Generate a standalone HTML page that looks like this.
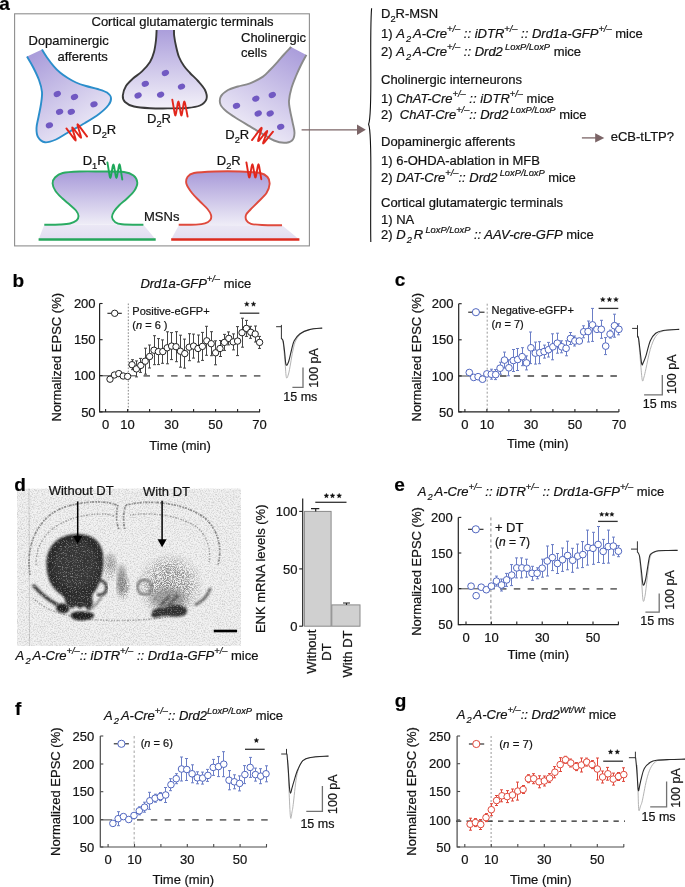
<!DOCTYPE html><html><head><meta charset="utf-8"><style>html,body{margin:0;padding:0;background:#fff;}svg{display:block;opacity:0.999;}text{font-family:"Liberation Sans", sans-serif;white-space:pre;stroke:#1a1a1a;stroke-width:0.22px;}</style></head><body>
<svg width="685" height="887" viewBox="0 0 685 887">
<defs>
<linearGradient id="gT" x1="0" y1="0" x2="0" y2="1"><stop offset="0" stop-color="#ab9edb"/><stop offset="1" stop-color="#f3f1f9"/></linearGradient>
<linearGradient id="gL" x1="0.2" y1="0" x2="0.8" y2="1"><stop offset="0" stop-color="#ab9edb"/><stop offset="1" stop-color="#f5f3fa"/></linearGradient>
<linearGradient id="gR" x1="0.8" y1="0" x2="0.3" y2="1"><stop offset="0" stop-color="#ab9edb"/><stop offset="1" stop-color="#f5f3fa"/></linearGradient>
<linearGradient id="gM" x1="0" y1="0" x2="0" y2="1"><stop offset="0" stop-color="#a89ad9"/><stop offset="1" stop-color="#efedf7"/></linearGradient>
<linearGradient id="gB" x1="0" y1="0" x2="0" y2="1"><stop offset="0" stop-color="#ebe8f5"/><stop offset="1" stop-color="#e2ddf1"/></linearGradient>
<filter id="noise" x="0" y="0" width="1" height="1"><feTurbulence type="fractalNoise" baseFrequency="0.9" numOctaves="1" seed="3"/><feColorMatrix type="matrix" values="0 0 0 0 0  0 0 0 0 0  0 0 0 0 0  0 0 0 -2.2 1.45"/><feComposite in2="SourceGraphic" operator="in"/></filter>
</defs>
<text x="-0.80" y="10.00" font-size="19" text-anchor="start" font-weight="bold" font-style="normal" fill="#000" >a</text>
<rect x="14.6" y="13.8" width="294.8" height="232.1" fill="none" stroke="#8e8e8e" stroke-width="1.1"/>
<text x="91.50" y="25.50" font-size="13" text-anchor="start" font-weight="normal" font-style="normal" fill="#111" >Cortical glutamatergic terminals</text>
<text x="28.50" y="44.60" font-size="13" text-anchor="start" font-weight="normal" font-style="normal" fill="#111" >Dopaminergic</text>
<text x="57.50" y="60.50" font-size="13" text-anchor="start" font-weight="normal" font-style="normal" fill="#111" >afferents</text>
<text x="241.00" y="42.00" font-size="13" text-anchor="start" font-weight="normal" font-style="normal" fill="#111" >Cholinergic</text>
<text x="241.00" y="57.30" font-size="13" text-anchor="start" font-weight="normal" font-style="normal" fill="#111" >cells</text>
<path d="M27.00 56.60 C28.00 58.33 31.00 63.10 33.00 67.00 C35.00 70.90 37.50 75.83 39.00 80.00 C40.50 84.17 41.67 88.00 42.00 92.00 C42.33 96.00 41.58 99.83 41.00 104.00 C40.42 108.17 39.25 113.00 38.50 117.00 C37.75 121.00 36.58 124.67 36.50 128.00 C36.42 131.33 36.58 134.62 38.00 137.00 C39.42 139.38 42.00 141.88 45.00 142.30 C48.00 142.72 52.17 141.13 56.00 139.50 C59.83 137.87 63.17 135.25 68.00 132.50 C72.83 129.75 79.83 126.08 85.00 123.00 C90.17 119.92 95.08 117.00 99.00 114.00 C102.92 111.00 106.50 107.67 108.50 105.00 C110.50 102.33 111.25 100.08 111.00 98.00 C110.75 95.92 109.23 94.00 107.00 92.50 C104.77 91.00 101.10 90.08 97.60 89.00 C94.10 87.92 89.60 87.08 86.00 86.00 C82.40 84.92 79.03 83.83 76.00 82.50 C72.97 81.17 70.47 79.67 67.80 78.00 C65.13 76.33 62.33 74.45 60.00 72.50 C57.67 70.55 55.97 68.80 53.80 66.30 C51.63 63.80 48.97 60.28 47.00 57.50 C45.03 54.72 42.83 50.92 42.00 49.60 Z" fill="url(#gL)"/>
<path d="M27.00 56.60 C28.00 58.33 31.00 63.10 33.00 67.00 C35.00 70.90 37.50 75.83 39.00 80.00 C40.50 84.17 41.67 88.00 42.00 92.00 C42.33 96.00 41.58 99.83 41.00 104.00 C40.42 108.17 39.25 113.00 38.50 117.00 C37.75 121.00 36.58 124.67 36.50 128.00 C36.42 131.33 36.58 134.62 38.00 137.00 C39.42 139.38 42.00 141.88 45.00 142.30 C48.00 142.72 52.17 141.13 56.00 139.50 C59.83 137.87 63.17 135.25 68.00 132.50 C72.83 129.75 79.83 126.08 85.00 123.00 C90.17 119.92 95.08 117.00 99.00 114.00 C102.92 111.00 106.50 107.67 108.50 105.00 C110.50 102.33 111.25 100.08 111.00 98.00 C110.75 95.92 109.23 94.00 107.00 92.50 C104.77 91.00 101.10 90.08 97.60 89.00 C94.10 87.92 89.60 87.08 86.00 86.00 C82.40 84.92 79.03 83.83 76.00 82.50 C72.97 81.17 70.47 79.67 67.80 78.00 C65.13 76.33 62.33 74.45 60.00 72.50 C57.67 70.55 55.97 68.80 53.80 66.30 C51.63 63.80 48.97 60.28 47.00 57.50 C45.03 54.72 42.83 50.92 42.00 49.60" fill="none" stroke="#2b8ecb" stroke-width="1.9"/>
<path d="M156.60 30.00 C156.50 31.67 156.43 36.33 156.00 40.00 C155.57 43.67 155.00 48.33 154.00 52.00 C153.00 55.67 152.00 58.77 150.00 62.00 C148.00 65.23 144.83 68.65 142.00 71.40 C139.17 74.15 135.67 76.07 133.00 78.50 C130.33 80.93 127.70 83.17 126.00 86.00 C124.30 88.83 122.97 92.83 122.80 95.50 C122.63 98.17 123.13 100.17 125.00 102.00 C126.87 103.83 129.83 105.47 134.00 106.50 C138.17 107.53 144.00 107.88 150.00 108.20 C156.00 108.52 163.83 108.43 170.00 108.40 C176.17 108.37 182.00 108.48 187.00 108.00 C192.00 107.52 196.75 107.00 200.00 105.50 C203.25 104.00 205.67 101.58 206.50 99.00 C207.33 96.42 206.42 93.00 205.00 90.00 C203.58 87.00 200.50 83.83 198.00 81.00 C195.50 78.17 192.33 75.50 190.00 73.00 C187.67 70.50 185.83 68.67 184.00 66.00 C182.17 63.33 180.33 60.33 179.00 57.00 C177.67 53.67 176.80 49.50 176.00 46.00 C175.20 42.50 174.53 38.67 174.20 36.00 C173.87 33.33 174.03 31.00 174.00 30.00 Z" fill="url(#gT)"/>
<path d="M156.60 30.00 C156.50 31.67 156.43 36.33 156.00 40.00 C155.57 43.67 155.00 48.33 154.00 52.00 C153.00 55.67 152.00 58.77 150.00 62.00 C148.00 65.23 144.83 68.65 142.00 71.40 C139.17 74.15 135.67 76.07 133.00 78.50 C130.33 80.93 127.70 83.17 126.00 86.00 C124.30 88.83 122.97 92.83 122.80 95.50 C122.63 98.17 123.13 100.17 125.00 102.00 C126.87 103.83 129.83 105.47 134.00 106.50 C138.17 107.53 144.00 107.88 150.00 108.20 C156.00 108.52 163.83 108.43 170.00 108.40 C176.17 108.37 182.00 108.48 187.00 108.00 C192.00 107.52 196.75 107.00 200.00 105.50 C203.25 104.00 205.67 101.58 206.50 99.00 C207.33 96.42 206.42 93.00 205.00 90.00 C203.58 87.00 200.50 83.83 198.00 81.00 C195.50 78.17 192.33 75.50 190.00 73.00 C187.67 70.50 185.83 68.67 184.00 66.00 C182.17 63.33 180.33 60.33 179.00 57.00 C177.67 53.67 176.80 49.50 176.00 46.00 C175.20 42.50 174.53 38.67 174.20 36.00 C173.87 33.33 174.03 31.00 174.00 30.00" fill="none" stroke="#3a3a3a" stroke-width="1.9"/>
<path d="M291.10 46.90 C289.92 48.17 286.28 51.97 284.00 54.50 C281.72 57.03 279.73 59.52 277.40 62.10 C275.07 64.68 272.40 67.58 270.00 70.00 C267.60 72.42 266.33 74.38 263.00 76.60 C259.67 78.82 254.17 81.65 250.00 83.30 C245.83 84.95 241.67 85.38 238.00 86.50 C234.33 87.62 230.87 88.33 228.00 90.00 C225.13 91.67 222.05 94.08 220.80 96.50 C219.55 98.92 219.63 102.08 220.50 104.50 C221.37 106.92 223.42 108.75 226.00 111.00 C228.58 113.25 232.00 115.43 236.00 118.00 C240.00 120.57 245.50 123.70 250.00 126.40 C254.50 129.10 259.00 131.85 263.00 134.20 C267.00 136.55 270.50 139.07 274.00 140.50 C277.50 141.93 281.00 142.80 284.00 142.80 C287.00 142.80 290.25 142.13 292.00 140.50 C293.75 138.87 294.42 136.08 294.50 133.00 C294.58 129.92 293.25 125.83 292.50 122.00 C291.75 118.17 290.58 113.55 290.00 110.00 C289.42 106.45 288.75 104.37 289.00 100.70 C289.25 97.03 290.33 92.12 291.50 88.00 C292.67 83.88 294.42 79.83 296.00 76.00 C297.58 72.17 299.27 68.52 301.00 65.00 C302.73 61.48 305.50 56.58 306.40 54.90 Z" fill="url(#gR)"/>
<path d="M291.10 46.90 C289.92 48.17 286.28 51.97 284.00 54.50 C281.72 57.03 279.73 59.52 277.40 62.10 C275.07 64.68 272.40 67.58 270.00 70.00 C267.60 72.42 266.33 74.38 263.00 76.60 C259.67 78.82 254.17 81.65 250.00 83.30 C245.83 84.95 241.67 85.38 238.00 86.50 C234.33 87.62 230.87 88.33 228.00 90.00 C225.13 91.67 222.05 94.08 220.80 96.50 C219.55 98.92 219.63 102.08 220.50 104.50 C221.37 106.92 223.42 108.75 226.00 111.00 C228.58 113.25 232.00 115.43 236.00 118.00 C240.00 120.57 245.50 123.70 250.00 126.40 C254.50 129.10 259.00 131.85 263.00 134.20 C267.00 136.55 270.50 139.07 274.00 140.50 C277.50 141.93 281.00 142.80 284.00 142.80 C287.00 142.80 290.25 142.13 292.00 140.50 C293.75 138.87 294.42 136.08 294.50 133.00 C294.58 129.92 293.25 125.83 292.50 122.00 C291.75 118.17 290.58 113.55 290.00 110.00 C289.42 106.45 288.75 104.37 289.00 100.70 C289.25 97.03 290.33 92.12 291.50 88.00 C292.67 83.88 294.42 79.83 296.00 76.00 C297.58 72.17 299.27 68.52 301.00 65.00 C302.73 61.48 305.50 56.58 306.40 54.90" fill="none" stroke="#8a8a8a" stroke-width="1.9"/>
<ellipse cx="57.3" cy="94.0" rx="3.75" ry="2.9" fill="#7159c2" transform="rotate(-22 57.3 94.0)"/>
<ellipse cx="74.5" cy="97.0" rx="3.75" ry="2.9" fill="#7159c2" transform="rotate(-22 74.5 97.0)"/>
<ellipse cx="94.0" cy="104.3" rx="3.75" ry="2.9" fill="#7159c2" transform="rotate(-22 94.0 104.3)"/>
<ellipse cx="59.6" cy="111.8" rx="3.75" ry="2.9" fill="#7159c2" transform="rotate(-22 59.6 111.8)"/>
<ellipse cx="71.3" cy="111.8" rx="3.75" ry="2.9" fill="#7159c2" transform="rotate(-22 71.3 111.8)"/>
<ellipse cx="49.4" cy="125.3" rx="3.75" ry="2.9" fill="#7159c2" transform="rotate(-22 49.4 125.3)"/>
<ellipse cx="165.4" cy="73.0" rx="3.75" ry="2.9" fill="#7159c2" transform="rotate(-22 165.4 73.0)"/>
<ellipse cx="145.3" cy="83.8" rx="3.75" ry="2.9" fill="#7159c2" transform="rotate(-22 145.3 83.8)"/>
<ellipse cx="181.5" cy="86.6" rx="3.75" ry="2.9" fill="#7159c2" transform="rotate(-22 181.5 86.6)"/>
<ellipse cx="138.1" cy="95.5" rx="3.75" ry="2.9" fill="#7159c2" transform="rotate(-22 138.1 95.5)"/>
<ellipse cx="160.6" cy="94.7" rx="3.75" ry="2.9" fill="#7159c2" transform="rotate(-22 160.6 94.7)"/>
<ellipse cx="236.5" cy="105.8" rx="3.75" ry="2.9" fill="#7159c2" transform="rotate(-22 236.5 105.8)"/>
<ellipse cx="255.8" cy="98.7" rx="3.75" ry="2.9" fill="#7159c2" transform="rotate(-22 255.8 98.7)"/>
<ellipse cx="272.3" cy="95.0" rx="3.75" ry="2.9" fill="#7159c2" transform="rotate(-22 272.3 95.0)"/>
<ellipse cx="258.2" cy="113.5" rx="3.75" ry="2.9" fill="#7159c2" transform="rotate(-22 258.2 113.5)"/>
<ellipse cx="270.2" cy="113.5" rx="3.75" ry="2.9" fill="#7159c2" transform="rotate(-22 270.2 113.5)"/>
<ellipse cx="280.7" cy="126.8" rx="3.75" ry="2.9" fill="#7159c2" transform="rotate(-22 280.7 126.8)"/>
<path d="M44.3 224.8 L143.4 224.8 L155.7 239.5 L38.6 239.5Z" fill="url(#gB)"/>
<path d="M44.30 224.80 C46.92 224.75 55.72 224.72 60.00 224.50 C64.28 224.28 67.25 224.17 70.00 223.50 C72.75 222.83 75.08 221.75 76.50 220.50 C77.92 219.25 78.58 217.67 78.50 216.00 C78.42 214.33 77.50 212.42 76.00 210.50 C74.50 208.58 71.75 206.50 69.50 204.50 C67.25 202.50 64.83 200.75 62.50 198.50 C60.17 196.25 57.15 193.50 55.50 191.00 C53.85 188.50 52.68 185.75 52.60 183.50 C52.52 181.25 53.32 179.25 55.00 177.50 C56.68 175.75 58.53 174.00 62.70 173.00 C66.87 172.00 73.78 171.75 80.00 171.50 C86.22 171.25 92.67 171.42 100.00 171.50 C107.33 171.58 118.42 171.33 124.00 172.00 C129.58 172.67 131.28 173.75 133.50 175.50 C135.72 177.25 137.13 180.00 137.30 182.50 C137.47 185.00 136.22 187.83 134.50 190.50 C132.78 193.17 129.50 196.08 127.00 198.50 C124.50 200.92 121.67 202.83 119.50 205.00 C117.33 207.17 115.25 209.50 114.00 211.50 C112.75 213.50 111.83 215.25 112.00 217.00 C112.17 218.75 113.33 220.78 115.00 222.00 C116.67 223.22 117.27 223.83 122.00 224.30 C126.73 224.77 139.83 224.72 143.40 224.80 Z" fill="url(#gM)"/>
<path d="M44.30 224.80 C46.92 224.75 55.72 224.72 60.00 224.50 C64.28 224.28 67.25 224.17 70.00 223.50 C72.75 222.83 75.08 221.75 76.50 220.50 C77.92 219.25 78.58 217.67 78.50 216.00 C78.42 214.33 77.50 212.42 76.00 210.50 C74.50 208.58 71.75 206.50 69.50 204.50 C67.25 202.50 64.83 200.75 62.50 198.50 C60.17 196.25 57.15 193.50 55.50 191.00 C53.85 188.50 52.68 185.75 52.60 183.50 C52.52 181.25 53.32 179.25 55.00 177.50 C56.68 175.75 58.53 174.00 62.70 173.00 C66.87 172.00 73.78 171.75 80.00 171.50 C86.22 171.25 92.67 171.42 100.00 171.50 C107.33 171.58 118.42 171.33 124.00 172.00 C129.58 172.67 131.28 173.75 133.50 175.50 C135.72 177.25 137.13 180.00 137.30 182.50 C137.47 185.00 136.22 187.83 134.50 190.50 C132.78 193.17 129.50 196.08 127.00 198.50 C124.50 200.92 121.67 202.83 119.50 205.00 C117.33 207.17 115.25 209.50 114.00 211.50 C112.75 213.50 111.83 215.25 112.00 217.00 C112.17 218.75 113.33 220.78 115.00 222.00 C116.67 223.22 117.27 223.83 122.00 224.30 C126.73 224.77 139.83 224.72 143.40 224.80" fill="none" stroke="#2aab62" stroke-width="1.9"/>
<line x1="38.6" y1="239.5" x2="155.7" y2="239.5" stroke="#26a65b" stroke-width="2.5"/>
<path d="M179 225 L282 225.3 L299 239.3 L171.2 239.3Z" fill="url(#gB)"/>
<path d="M178.70 224.80 C181.58 224.77 191.62 224.85 196.00 224.60 C200.38 224.35 202.62 224.07 205.00 223.30 C207.38 222.53 209.30 221.38 210.30 220.00 C211.30 218.62 211.47 216.83 211.00 215.00 C210.53 213.17 209.33 211.25 207.50 209.00 C205.67 206.75 202.58 204.17 200.00 201.50 C197.42 198.83 194.25 195.92 192.00 193.00 C189.75 190.08 187.25 186.67 186.50 184.00 C185.75 181.33 186.25 178.83 187.50 177.00 C188.75 175.17 189.42 173.92 194.00 173.00 C198.58 172.08 207.33 171.75 215.00 171.50 C222.67 171.25 232.50 171.25 240.00 171.50 C247.50 171.75 255.42 172.08 260.00 173.00 C264.58 173.92 265.90 175.17 267.50 177.00 C269.10 178.83 269.77 181.33 269.60 184.00 C269.43 186.67 268.43 190.00 266.50 193.00 C264.57 196.00 260.67 199.25 258.00 202.00 C255.33 204.75 252.50 207.33 250.50 209.50 C248.50 211.67 246.67 213.17 246.00 215.00 C245.33 216.83 245.67 219.03 246.50 220.50 C247.33 221.97 248.42 223.05 251.00 223.80 C253.58 224.55 256.83 224.75 262.00 225.00 C267.17 225.25 278.67 225.25 282.00 225.30 Z" fill="url(#gM)"/>
<path d="M178.70 224.80 C181.58 224.77 191.62 224.85 196.00 224.60 C200.38 224.35 202.62 224.07 205.00 223.30 C207.38 222.53 209.30 221.38 210.30 220.00 C211.30 218.62 211.47 216.83 211.00 215.00 C210.53 213.17 209.33 211.25 207.50 209.00 C205.67 206.75 202.58 204.17 200.00 201.50 C197.42 198.83 194.25 195.92 192.00 193.00 C189.75 190.08 187.25 186.67 186.50 184.00 C185.75 181.33 186.25 178.83 187.50 177.00 C188.75 175.17 189.42 173.92 194.00 173.00 C198.58 172.08 207.33 171.75 215.00 171.50 C222.67 171.25 232.50 171.25 240.00 171.50 C247.50 171.75 255.42 172.08 260.00 173.00 C264.58 173.92 265.90 175.17 267.50 177.00 C269.10 178.83 269.77 181.33 269.60 184.00 C269.43 186.67 268.43 190.00 266.50 193.00 C264.57 196.00 260.67 199.25 258.00 202.00 C255.33 204.75 252.50 207.33 250.50 209.50 C248.50 211.67 246.67 213.17 246.00 215.00 C245.33 216.83 245.67 219.03 246.50 220.50 C247.33 221.97 248.42 223.05 251.00 223.80 C253.58 224.55 256.83 224.75 262.00 225.00 C267.17 225.25 278.67 225.25 282.00 225.30" fill="none" stroke="#df4a3d" stroke-width="1.9"/>
<line x1="171.2" y1="239.4" x2="299.4" y2="239.4" stroke="#dc2b1f" stroke-width="2.5"/>
<path d="M172.30 99.60 L174.72 113.48 Q175.40 117.40 176.06 113.44 L177.74 103.36 Q178.40 99.40 179.06 103.40 L180.74 113.60 Q181.40 117.60 182.04 113.60 L183.66 103.40 Q184.30 99.40 185.03 103.18 L187.60 116.60" fill="none" stroke="#e2261c" stroke-width="1.9" stroke-linecap="round" stroke-linejoin="round"/>
<path d="M107.40 162.40 L109.66 176.13 Q110.30 180.00 110.98 176.13 L112.72 166.27 Q113.40 162.40 114.06 166.27 L115.74 176.13 Q116.40 180.00 117.08 176.13 L118.82 166.27 Q119.50 162.40 120.12 166.16 L122.30 179.50" fill="none" stroke="#1ea85a" stroke-width="1.9" stroke-linecap="round" stroke-linejoin="round"/>
<path d="M246.40 162.40 L248.66 175.74 Q249.30 179.50 249.98 175.74 L251.72 166.16 Q252.40 162.40 253.06 166.16 L254.74 175.74 Q255.40 179.50 256.08 175.74 L257.82 166.16 Q258.50 162.40 259.12 166.10 L261.30 179.20" fill="none" stroke="#e2261c" stroke-width="1.9" stroke-linecap="round" stroke-linejoin="round"/>
<path d="M66.40 128.40 L74.36 139.16 Q76.60 142.20 75.46 138.59 L72.54 129.41 Q71.40 125.80 73.71 128.81 L79.59 136.49 Q81.90 139.50 80.73 135.78 L77.77 126.32 Q76.60 122.60 78.91 125.68 L87.10 136.60" fill="none" stroke="#e2261c" stroke-width="1.9" stroke-linecap="round" stroke-linejoin="round"/>
<path d="M252.00 140.10 L260.19 129.18 Q262.50 126.10 261.36 129.77 L258.44 139.13 Q257.30 142.80 259.68 139.83 L265.72 132.27 Q268.10 129.30 266.80 132.78 L263.50 141.62 Q262.20 145.10 264.58 142.15 L273.00 131.70" fill="none" stroke="#e2261c" stroke-width="1.9" stroke-linecap="round" stroke-linejoin="round"/>
<text x="92.30" y="133.80" font-size="13" text-anchor="start" font-weight="normal" font-style="normal" fill="#111" >D<tspan dx="0" font-size="9.3" baseline-shift="-3.8">2</tspan>R</text>
<text x="147.00" y="122.80" font-size="13" text-anchor="start" font-weight="normal" font-style="normal" fill="#111" >D<tspan dx="0" font-size="9.3" baseline-shift="-3.8">2</tspan>R</text>
<text x="225.30" y="139.20" font-size="13" text-anchor="start" font-weight="normal" font-style="normal" fill="#111" >D<tspan dx="0" font-size="9.3" baseline-shift="-3.8">2</tspan>R</text>
<text x="82.70" y="164.50" font-size="13" text-anchor="start" font-weight="normal" font-style="normal" fill="#111" >D<tspan dx="0" font-size="9.3" baseline-shift="-3.8">1</tspan>R</text>
<text x="216.80" y="164.50" font-size="13" text-anchor="start" font-weight="normal" font-style="normal" fill="#111" >D<tspan dx="0" font-size="9.3" baseline-shift="-3.8">2</tspan>R</text>
<text x="144.00" y="220.70" font-size="13" text-anchor="start" font-weight="normal" font-style="normal" fill="#111" >MSNs</text>
<line x1="301.6" y1="129.8" x2="358" y2="129.8" stroke="#7b6466" stroke-width="1.3"/>
<path d="M357 124.5 L365.8 129.8 L357 135.1Z" fill="#7b6466"/>
<path d="M371.6 8.2 C370.6 20 370.6 40 370.8 70 C371 100 371 118 368.6 124.3 C371 130 371 150 370.8 180 C370.6 215 370.6 232 370.8 242" fill="none" stroke="#111" stroke-width="1.1"/>
<text x="381.00" y="17.80" font-size="13" text-anchor="start" font-weight="normal" font-style="normal" fill="#111" >D<tspan dx="0" font-size="9.3" baseline-shift="-3.8">2</tspan>R-MSN</text>
<text x="381.00" y="37.90" font-size="13" text-anchor="start" font-weight="normal" font-style="normal" fill="#111" >1) <tspan font-style="italic">A<tspan dx="1.2" font-size="9.3" baseline-shift="-3.8">2&#8201;</tspan>A-Cre<tspan dx="0" font-size="9.3" baseline-shift="5.6">+/&#8211;</tspan> :: iDTR<tspan dx="0" font-size="9.3" baseline-shift="5.6">+/&#8211;</tspan> :: Drd1a-GFP<tspan dx="0" font-size="9.3" baseline-shift="5.6">+/&#8211;</tspan></tspan> mice</text>
<text x="381.00" y="56.00" font-size="13" text-anchor="start" font-weight="normal" font-style="normal" fill="#111" >2) <tspan font-style="italic">A<tspan dx="1.2" font-size="9.3" baseline-shift="-3.8">2&#8201;</tspan>A-Cre<tspan dx="0" font-size="9.3" baseline-shift="5.6">+/&#8211;</tspan> :: Drd2<tspan dx="2.2" font-size="9.3" baseline-shift="5.6">LoxP/LoxP</tspan></tspan> mice</text>
<text x="381.00" y="84.00" font-size="13" text-anchor="start" font-weight="normal" font-style="normal" fill="#111" >Cholinergic interneurons</text>
<text x="381.00" y="102.80" font-size="13" text-anchor="start" font-weight="normal" font-style="normal" fill="#111" >1) <tspan font-style="italic">ChAT-Cre<tspan dx="0" font-size="9.3" baseline-shift="5.6">+/&#8211;</tspan> :: iDTR<tspan dx="0" font-size="9.3" baseline-shift="5.6">+/&#8211;</tspan></tspan> mice</text>
<text x="381.00" y="119.30" font-size="13" text-anchor="start" font-weight="normal" font-style="normal" fill="#111" >2)  <tspan font-style="italic">ChAT-Cre<tspan dx="0" font-size="9.3" baseline-shift="5.6">+/&#8211;</tspan>:: Drd2<tspan dx="2.2" font-size="9.3" baseline-shift="5.6">LoxP/LoxP</tspan></tspan> mice</text>
<text x="381.00" y="145.50" font-size="13" text-anchor="start" font-weight="normal" font-style="normal" fill="#111" >Dopaminergic afferents</text>
<text x="381.00" y="165.40" font-size="13" text-anchor="start" font-weight="normal" font-style="normal" fill="#111" >1) 6-OHDA-ablation in MFB</text>
<text x="381.00" y="182.40" font-size="13" text-anchor="start" font-weight="normal" font-style="normal" fill="#111" >2) <tspan font-style="italic">DAT-Cre<tspan dx="0" font-size="9.3" baseline-shift="5.6">+/&#8211;</tspan>:: Drd2<tspan dx="2.2" font-size="9.3" baseline-shift="5.6">LoxP/LoxP</tspan></tspan> mice</text>
<text x="381.00" y="206.50" font-size="13" text-anchor="start" font-weight="normal" font-style="normal" fill="#111" >Cortical glutamatergic terminals</text>
<text x="381.00" y="224.00" font-size="13" text-anchor="start" font-weight="normal" font-style="normal" fill="#111" >1) NA</text>
<text x="381.00" y="239.00" font-size="13" text-anchor="start" font-weight="normal" font-style="normal" fill="#111" >2) <tspan font-style="italic">D<tspan dx="1.2" font-size="9.3" baseline-shift="-3.8">2&#8201;</tspan>R<tspan dx="2.2" font-size="9.3" baseline-shift="5.6">LoxP/LoxP</tspan> :: AAV-cre-GFP</tspan> mice</text>
<line x1="581.9" y1="137.9" x2="596" y2="137.9" stroke="#7b6466" stroke-width="1.3"/>
<path d="M595.2 133.3 L604.3 137.9 L595.2 142.5Z" fill="#7b6466"/>
<text x="610.70" y="141.00" font-size="13" text-anchor="start" font-weight="normal" font-style="normal" fill="#111" >eCB-tLTP?</text>
<text x="12.60" y="286.70" font-size="19" text-anchor="start" font-weight="bold" font-style="normal" fill="#000" >b</text>
<text x="140.40" y="287.50" font-size="13" text-anchor="start" font-weight="normal" font-style="normal" fill="#111" ><tspan font-style="italic">Drd1a-GFP<tspan dx="0" font-size="9.3" baseline-shift="5.6">+/&#8211;</tspan></tspan> mice</text>
<line x1="128.30" y1="303.50" x2="128.30" y2="411.90" stroke="#666" stroke-width="0.8" stroke-dasharray="1.6 1.6"/>
<line x1="99.60" y1="375.80" x2="136.00" y2="375.80" stroke="#444" stroke-width="1"/>
<line x1="143.50" y1="375.80" x2="262.00" y2="375.80" stroke="#707070" stroke-width="1.8" stroke-dasharray="6.5 7.3"/>
<path d="M99.60 303.50 L99.60 411.90 L260.00 411.90" fill="none" stroke="#222" stroke-width="1.2"/>
<line x1="99.60" y1="303.50" x2="102.60" y2="303.50" stroke="#222" stroke-width="1.1"/>
<text x="95.60" y="308.10" font-size="13" text-anchor="end" font-weight="normal" font-style="normal" fill="#111" >200</text>
<line x1="99.60" y1="339.70" x2="102.60" y2="339.70" stroke="#222" stroke-width="1.1"/>
<text x="95.60" y="344.30" font-size="13" text-anchor="end" font-weight="normal" font-style="normal" fill="#111" >150</text>
<line x1="99.60" y1="375.60" x2="102.60" y2="375.60" stroke="#222" stroke-width="1.1"/>
<text x="95.60" y="380.20" font-size="13" text-anchor="end" font-weight="normal" font-style="normal" fill="#111" >100</text>
<line x1="99.60" y1="411.90" x2="102.60" y2="411.90" stroke="#222" stroke-width="1.1"/>
<text x="95.60" y="416.50" font-size="13" text-anchor="end" font-weight="normal" font-style="normal" fill="#111" >50</text>
<line x1="105.60" y1="411.90" x2="105.60" y2="408.90" stroke="#222" stroke-width="1.1"/>
<line x1="127.60" y1="411.90" x2="127.60" y2="408.90" stroke="#222" stroke-width="1.1"/>
<line x1="149.60" y1="411.90" x2="149.60" y2="408.90" stroke="#222" stroke-width="1.1"/>
<line x1="171.60" y1="411.90" x2="171.60" y2="408.90" stroke="#222" stroke-width="1.1"/>
<line x1="193.60" y1="411.90" x2="193.60" y2="408.90" stroke="#222" stroke-width="1.1"/>
<line x1="215.60" y1="411.90" x2="215.60" y2="408.90" stroke="#222" stroke-width="1.1"/>
<line x1="237.60" y1="411.90" x2="237.60" y2="408.90" stroke="#222" stroke-width="1.1"/>
<line x1="259.60" y1="411.90" x2="259.60" y2="408.90" stroke="#222" stroke-width="1.1"/>
<text x="105.60" y="428.90" font-size="13" text-anchor="middle" font-weight="normal" font-style="normal" fill="#111" >0</text>
<text x="127.60" y="428.90" font-size="13" text-anchor="middle" font-weight="normal" font-style="normal" fill="#111" >10</text>
<text x="171.60" y="428.90" font-size="13" text-anchor="middle" font-weight="normal" font-style="normal" fill="#111" >30</text>
<text x="215.60" y="428.90" font-size="13" text-anchor="middle" font-weight="normal" font-style="normal" fill="#111" >50</text>
<text x="259.60" y="428.90" font-size="13" text-anchor="middle" font-weight="normal" font-style="normal" fill="#111" >70</text>
<text x="0" y="0" font-size="13" text-anchor="middle" fill="#111" transform="translate(61.00 357.20) rotate(-90)">Normalized EPSC (%)</text>
<text x="180.10" y="449.70" font-size="13" text-anchor="middle" font-weight="normal" font-style="normal" fill="#111" >Time (min)</text>
<path d="M132.50 359.70 V369.70 M131.00 359.70 H134.00 M131.00 369.70 H134.00" stroke="#444" stroke-width="1" fill="none"/>
<path d="M136.50 360.90 V376.90 M135.00 360.90 H138.00 M135.00 376.90 H138.00" stroke="#444" stroke-width="1" fill="none"/>
<path d="M140.50 358.40 V372.40 M139.00 358.40 H142.00 M139.00 372.40 H142.00" stroke="#444" stroke-width="1" fill="none"/>
<path d="M145.50 348.20 V374.20 M144.00 348.20 H147.00 M144.00 374.20 H147.00" stroke="#444" stroke-width="1" fill="none"/>
<path d="M149.50 345.00 V368.00 M148.00 345.00 H151.00 M148.00 368.00 H151.00" stroke="#444" stroke-width="1" fill="none"/>
<path d="M154.50 335.70 V364.70 M153.00 335.70 H156.00 M153.00 364.70 H156.00" stroke="#444" stroke-width="1" fill="none"/>
<path d="M158.50 338.60 V364.60 M157.00 338.60 H160.00 M157.00 364.60 H160.00" stroke="#444" stroke-width="1" fill="none"/>
<path d="M162.50 339.90 V363.30 M161.00 339.90 H164.00 M161.00 363.30 H164.00" stroke="#444" stroke-width="1" fill="none"/>
<path d="M167.50 331.80 V363.80 M166.00 331.80 H169.00 M166.00 363.80 H169.00" stroke="#444" stroke-width="1" fill="none"/>
<path d="M171.50 332.60 V359.60 M170.00 332.60 H173.00 M170.00 359.60 H173.00" stroke="#444" stroke-width="1" fill="none"/>
<path d="M176.50 331.70 V361.70 M175.00 331.70 H178.00 M175.00 361.70 H178.00" stroke="#444" stroke-width="1" fill="none"/>
<path d="M180.50 335.20 V367.20 M179.00 335.20 H182.00 M179.00 367.20 H182.00" stroke="#444" stroke-width="1" fill="none"/>
<path d="M184.50 339.10 V368.10 M183.00 339.10 H186.00 M183.00 368.10 H186.00" stroke="#444" stroke-width="1" fill="none"/>
<path d="M189.50 333.70 V360.70 M188.00 333.70 H191.00 M188.00 360.70 H191.00" stroke="#444" stroke-width="1" fill="none"/>
<path d="M193.50 334.10 V358.10 M192.00 334.10 H195.00 M192.00 358.10 H195.00" stroke="#444" stroke-width="1" fill="none"/>
<path d="M198.50 335.00 V362.00 M197.00 335.00 H200.00 M197.00 362.00 H200.00" stroke="#444" stroke-width="1" fill="none"/>
<path d="M202.50 332.40 V360.40 M201.00 332.40 H204.00 M201.00 360.40 H204.00" stroke="#444" stroke-width="1" fill="none"/>
<path d="M206.50 326.30 V355.30 M205.00 326.30 H208.00 M205.00 355.30 H208.00" stroke="#444" stroke-width="1" fill="none"/>
<path d="M211.50 331.70 V355.70 M210.00 331.70 H213.00 M210.00 355.70 H213.00" stroke="#444" stroke-width="1" fill="none"/>
<path d="M215.50 340.80 V364.80 M214.00 340.80 H217.00 M214.00 364.80 H217.00" stroke="#444" stroke-width="1" fill="none"/>
<path d="M220.50 340.50 V356.50 M219.00 340.50 H222.00 M219.00 356.50 H222.00" stroke="#444" stroke-width="1" fill="none"/>
<path d="M224.50 334.40 V350.40 M223.00 334.40 H226.00 M223.00 350.40 H226.00" stroke="#444" stroke-width="1" fill="none"/>
<path d="M228.50 331.90 V344.90 M227.00 331.90 H230.00 M227.00 344.90 H230.00" stroke="#444" stroke-width="1" fill="none"/>
<path d="M233.50 333.90 V349.90 M232.00 333.90 H235.00 M232.00 349.90 H235.00" stroke="#444" stroke-width="1" fill="none"/>
<path d="M237.50 326.60 V355.60 M236.00 326.60 H239.00 M236.00 355.60 H239.00" stroke="#444" stroke-width="1" fill="none"/>
<path d="M242.50 318.20 V347.20 M241.00 318.20 H244.00 M241.00 347.20 H244.00" stroke="#444" stroke-width="1" fill="none"/>
<path d="M246.50 320.40 V336.40 M245.00 320.40 H248.00 M245.00 336.40 H248.00" stroke="#444" stroke-width="1" fill="none"/>
<path d="M250.50 326.30 V338.30 M249.00 326.30 H252.00 M249.00 338.30 H252.00" stroke="#444" stroke-width="1" fill="none"/>
<path d="M255.50 326.00 V342.00 M254.00 326.00 H257.00 M254.00 342.00 H257.00" stroke="#444" stroke-width="1" fill="none"/>
<path d="M259.50 336.40 V348.40 M258.00 336.40 H261.00 M258.00 348.40 H261.00" stroke="#444" stroke-width="1" fill="none"/>
<circle cx="110.00" cy="379.20" r="3.2" fill="#fff" stroke="#222" stroke-width="1.0"/>
<circle cx="114.40" cy="375.00" r="3.2" fill="#fff" stroke="#222" stroke-width="1.0"/>
<circle cx="118.80" cy="373.60" r="3.2" fill="#fff" stroke="#222" stroke-width="1.0"/>
<circle cx="123.20" cy="376.00" r="3.2" fill="#fff" stroke="#222" stroke-width="1.0"/>
<circle cx="127.60" cy="376.40" r="3.2" fill="#fff" stroke="#222" stroke-width="1.0"/>
<circle cx="132.00" cy="364.70" r="3.2" fill="#fff" stroke="#222" stroke-width="1.0"/>
<circle cx="136.40" cy="368.90" r="3.2" fill="#fff" stroke="#222" stroke-width="1.0"/>
<circle cx="140.80" cy="365.40" r="3.2" fill="#fff" stroke="#222" stroke-width="1.0"/>
<circle cx="145.20" cy="361.20" r="3.2" fill="#fff" stroke="#222" stroke-width="1.0"/>
<circle cx="149.60" cy="356.50" r="3.2" fill="#fff" stroke="#222" stroke-width="1.0"/>
<circle cx="154.00" cy="350.20" r="3.2" fill="#fff" stroke="#222" stroke-width="1.0"/>
<circle cx="158.40" cy="351.60" r="3.2" fill="#fff" stroke="#222" stroke-width="1.0"/>
<circle cx="162.80" cy="351.60" r="3.2" fill="#fff" stroke="#222" stroke-width="1.0"/>
<circle cx="167.20" cy="347.80" r="3.2" fill="#fff" stroke="#222" stroke-width="1.0"/>
<circle cx="171.60" cy="346.10" r="3.2" fill="#fff" stroke="#222" stroke-width="1.0"/>
<circle cx="176.00" cy="346.70" r="3.2" fill="#fff" stroke="#222" stroke-width="1.0"/>
<circle cx="180.40" cy="351.20" r="3.2" fill="#fff" stroke="#222" stroke-width="1.0"/>
<circle cx="184.80" cy="353.60" r="3.2" fill="#fff" stroke="#222" stroke-width="1.0"/>
<circle cx="189.20" cy="347.20" r="3.2" fill="#fff" stroke="#222" stroke-width="1.0"/>
<circle cx="193.60" cy="346.10" r="3.2" fill="#fff" stroke="#222" stroke-width="1.0"/>
<circle cx="198.00" cy="348.50" r="3.2" fill="#fff" stroke="#222" stroke-width="1.0"/>
<circle cx="202.40" cy="346.40" r="3.2" fill="#fff" stroke="#222" stroke-width="1.0"/>
<circle cx="206.80" cy="340.80" r="3.2" fill="#fff" stroke="#222" stroke-width="1.0"/>
<circle cx="211.20" cy="343.70" r="3.2" fill="#fff" stroke="#222" stroke-width="1.0"/>
<circle cx="215.60" cy="352.80" r="3.2" fill="#fff" stroke="#222" stroke-width="1.0"/>
<circle cx="220.00" cy="348.50" r="3.2" fill="#fff" stroke="#222" stroke-width="1.0"/>
<circle cx="224.40" cy="342.40" r="3.2" fill="#fff" stroke="#222" stroke-width="1.0"/>
<circle cx="228.80" cy="338.40" r="3.2" fill="#fff" stroke="#222" stroke-width="1.0"/>
<circle cx="233.20" cy="341.90" r="3.2" fill="#fff" stroke="#222" stroke-width="1.0"/>
<circle cx="237.60" cy="341.10" r="3.2" fill="#fff" stroke="#222" stroke-width="1.0"/>
<circle cx="242.00" cy="332.70" r="3.2" fill="#fff" stroke="#222" stroke-width="1.0"/>
<circle cx="246.40" cy="328.40" r="3.2" fill="#fff" stroke="#222" stroke-width="1.0"/>
<circle cx="250.80" cy="332.30" r="3.2" fill="#fff" stroke="#222" stroke-width="1.0"/>
<circle cx="255.20" cy="334.00" r="3.2" fill="#fff" stroke="#222" stroke-width="1.0"/>
<circle cx="259.60" cy="342.40" r="3.2" fill="#fff" stroke="#222" stroke-width="1.0"/>
<line x1="107.40" y1="313.30" x2="121.80" y2="313.30" stroke="#222" stroke-width="1.1"/>
<circle cx="114.70" cy="313.30" r="3.2" fill="#fff" stroke="#222" stroke-width="1.0"/>
<text x="132.30" y="315.40" font-size="11" text-anchor="start" font-weight="normal" font-style="normal" fill="#111" >Positive-eGFP+</text>
<text x="132.30" y="328.80" font-size="11" text-anchor="start" font-weight="normal" font-style="normal" fill="#111" >(<tspan font-style="italic">n</tspan> = 6 )</text>
<line x1="239.80" y1="313.20" x2="259.30" y2="313.20" stroke="#333" stroke-width="1.3"/>
<polygon points="246.80,301.60 247.49,303.25 249.27,303.40 247.91,304.56 248.33,306.30 246.80,305.37 245.27,306.30 245.69,304.56 244.33,303.40 246.11,303.25" fill="#111" stroke="#111" stroke-width="0.3" stroke-linejoin="round"/>
<polygon points="253.50,301.60 254.19,303.25 255.97,303.40 254.61,304.56 255.03,306.30 253.50,305.37 251.97,306.30 252.39,304.56 251.03,303.40 252.81,303.25" fill="#111" stroke="#111" stroke-width="0.3" stroke-linejoin="round"/>
<path d="M283.10 341.00 C283.42 344.50 284.45 355.92 285.00 362.00 C285.55 368.08 285.82 375.50 286.40 377.50 C286.98 379.50 287.82 376.25 288.50 374.00 C289.18 371.75 289.75 368.00 290.50 364.00 C291.25 360.00 292.08 354.00 293.00 350.00 C293.92 346.00 294.50 342.83 296.00 340.00 C297.50 337.17 299.67 334.75 302.00 333.00 C304.33 331.25 306.63 330.32 310.00 329.50 C313.37 328.68 320.17 328.33 322.20 328.10" fill="none" stroke="#aaa" stroke-width="0.9"/>
<path d="M281.40 338.40 C281.68 338.83 282.57 338.73 283.10 341.00 C283.63 343.27 284.12 348.07 284.60 352.00 C285.08 355.93 285.35 362.93 286.00 364.60 C286.65 366.27 287.58 364.43 288.50 362.00 C289.42 359.57 290.55 353.55 291.50 350.00 C292.45 346.45 292.78 343.42 294.20 340.70 C295.62 337.98 297.47 335.55 300.00 333.70 C302.53 331.85 305.70 330.53 309.40 329.60 C313.10 328.67 320.07 328.35 322.20 328.10" fill="none" stroke="#2a2a2a" stroke-width="1.1"/>
<line x1="276.10" y1="326.70" x2="281.40" y2="326.70" stroke="#333" stroke-width="1"/>
<line x1="281.40" y1="324.90" x2="281.40" y2="339.00" stroke="#333" stroke-width="1"/>
<path d="M303.00 367.60 V387.40 H292.40" fill="none" stroke="#727272" stroke-width="1.3"/>
<text x="0" y="0" font-size="12.5" text-anchor="middle" fill="#111" transform="translate(317.80 367.90) rotate(-90)">100 pA</text>
<text x="300.30" y="400.80" font-size="12.5" text-anchor="middle" font-weight="normal" font-style="normal" fill="#111" >15 ms</text>
<text x="394.80" y="286.20" font-size="19" text-anchor="start" font-weight="bold" font-style="normal" fill="#000" >c</text>
<line x1="487.20" y1="303.70" x2="487.20" y2="411.90" stroke="#999" stroke-width="1.0" stroke-dasharray="2 2"/>
<line x1="458.70" y1="376.00" x2="495.00" y2="376.00" stroke="#444" stroke-width="1"/>
<line x1="500.00" y1="376.00" x2="622.00" y2="376.00" stroke="#707070" stroke-width="1.8" stroke-dasharray="6.5 7.3"/>
<path d="M458.70 303.70 L458.70 411.90 L618.80 411.90" fill="none" stroke="#222" stroke-width="1.2"/>
<line x1="458.70" y1="303.70" x2="461.70" y2="303.70" stroke="#222" stroke-width="1.1"/>
<text x="453.40" y="308.30" font-size="13" text-anchor="end" font-weight="normal" font-style="normal" fill="#111" >200</text>
<line x1="458.70" y1="339.80" x2="461.70" y2="339.80" stroke="#222" stroke-width="1.1"/>
<text x="453.40" y="344.40" font-size="13" text-anchor="end" font-weight="normal" font-style="normal" fill="#111" >150</text>
<line x1="458.70" y1="375.90" x2="461.70" y2="375.90" stroke="#222" stroke-width="1.1"/>
<text x="453.40" y="380.50" font-size="13" text-anchor="end" font-weight="normal" font-style="normal" fill="#111" >100</text>
<line x1="458.70" y1="411.90" x2="461.70" y2="411.90" stroke="#222" stroke-width="1.1"/>
<text x="453.40" y="416.50" font-size="13" text-anchor="end" font-weight="normal" font-style="normal" fill="#111" >50</text>
<line x1="464.90" y1="411.90" x2="464.90" y2="408.90" stroke="#222" stroke-width="1.1"/>
<line x1="486.90" y1="411.90" x2="486.90" y2="408.90" stroke="#222" stroke-width="1.1"/>
<line x1="508.90" y1="411.90" x2="508.90" y2="408.90" stroke="#222" stroke-width="1.1"/>
<line x1="530.90" y1="411.90" x2="530.90" y2="408.90" stroke="#222" stroke-width="1.1"/>
<line x1="552.90" y1="411.90" x2="552.90" y2="408.90" stroke="#222" stroke-width="1.1"/>
<line x1="574.90" y1="411.90" x2="574.90" y2="408.90" stroke="#222" stroke-width="1.1"/>
<line x1="596.90" y1="411.90" x2="596.90" y2="408.90" stroke="#222" stroke-width="1.1"/>
<line x1="618.90" y1="411.90" x2="618.90" y2="408.90" stroke="#222" stroke-width="1.1"/>
<text x="464.90" y="428.90" font-size="13" text-anchor="middle" font-weight="normal" font-style="normal" fill="#111" >0</text>
<text x="486.90" y="428.90" font-size="13" text-anchor="middle" font-weight="normal" font-style="normal" fill="#111" >10</text>
<text x="530.90" y="428.90" font-size="13" text-anchor="middle" font-weight="normal" font-style="normal" fill="#111" >30</text>
<text x="574.90" y="428.90" font-size="13" text-anchor="middle" font-weight="normal" font-style="normal" fill="#111" >50</text>
<text x="618.90" y="428.90" font-size="13" text-anchor="middle" font-weight="normal" font-style="normal" fill="#111" >70</text>
<text x="0" y="0" font-size="13" text-anchor="middle" fill="#111" transform="translate(420.50 357.20) rotate(-90)">Normalized EPSC (%)</text>
<text x="537.70" y="447.60" font-size="13" text-anchor="middle" font-weight="normal" font-style="normal" fill="#111" >Time (min)</text>
<path d="M491.50 369.20 V379.20 M490.00 369.20 H493.00 M490.00 379.20 H493.00" stroke="#6b7ec6" stroke-width="1" fill="none"/>
<path d="M495.50 369.60 V379.60 M494.00 369.60 H497.00 M494.00 379.60 H497.00" stroke="#6b7ec6" stroke-width="1" fill="none"/>
<path d="M500.50 362.20 V374.20 M499.00 362.20 H502.00 M499.00 374.20 H502.00" stroke="#6b7ec6" stroke-width="1" fill="none"/>
<path d="M504.50 352.10 V368.10 M503.00 352.10 H506.00 M503.00 368.10 H506.00" stroke="#6b7ec6" stroke-width="1" fill="none"/>
<path d="M508.50 359.80 V375.80 M507.00 359.80 H510.00 M507.00 375.80 H510.00" stroke="#6b7ec6" stroke-width="1" fill="none"/>
<path d="M513.50 349.50 V371.50 M512.00 349.50 H515.00 M512.00 371.50 H515.00" stroke="#6b7ec6" stroke-width="1" fill="none"/>
<path d="M517.50 348.50 V370.50 M516.00 348.50 H519.00 M516.00 370.50 H519.00" stroke="#6b7ec6" stroke-width="1" fill="none"/>
<path d="M522.50 347.70 V365.70 M521.00 347.70 H524.00 M521.00 365.70 H524.00" stroke="#6b7ec6" stroke-width="1" fill="none"/>
<path d="M526.50 355.90 V369.90 M525.00 355.90 H528.00 M525.00 369.90 H528.00" stroke="#6b7ec6" stroke-width="1" fill="none"/>
<path d="M530.50 332.00 V363.60 M529.00 332.00 H532.00 M529.00 363.60 H532.00" stroke="#6b7ec6" stroke-width="1" fill="none"/>
<path d="M535.50 342.10 V364.10 M534.00 342.10 H537.00 M534.00 364.10 H537.00" stroke="#6b7ec6" stroke-width="1" fill="none"/>
<path d="M539.50 341.70 V363.70 M538.00 341.70 H541.00 M538.00 363.70 H541.00" stroke="#6b7ec6" stroke-width="1" fill="none"/>
<path d="M544.50 345.10 V358.10 M543.00 345.10 H546.00 M543.00 358.10 H546.00" stroke="#6b7ec6" stroke-width="1" fill="none"/>
<path d="M548.50 342.40 V357.00 M547.00 342.40 H550.00 M547.00 357.00 H550.00" stroke="#6b7ec6" stroke-width="1" fill="none"/>
<path d="M552.50 333.80 V359.80 M551.00 333.80 H554.00 M551.00 359.80 H554.00" stroke="#6b7ec6" stroke-width="1" fill="none"/>
<path d="M557.50 333.20 V353.20 M556.00 333.20 H559.00 M556.00 353.20 H559.00" stroke="#6b7ec6" stroke-width="1" fill="none"/>
<path d="M561.50 340.80 V352.80 M560.00 340.80 H563.00 M560.00 352.80 H563.00" stroke="#6b7ec6" stroke-width="1" fill="none"/>
<path d="M566.50 340.80 V355.80 M565.00 340.80 H568.00 M565.00 355.80 H568.00" stroke="#6b7ec6" stroke-width="1" fill="none"/>
<path d="M570.50 332.50 V344.50 M569.00 332.50 H572.00 M569.00 344.50 H572.00" stroke="#6b7ec6" stroke-width="1" fill="none"/>
<path d="M574.50 336.00 V346.00 M573.00 336.00 H576.00 M573.00 346.00 H576.00" stroke="#6b7ec6" stroke-width="1" fill="none"/>
<path d="M583.50 325.80 V337.80 M582.00 325.80 H585.00 M582.00 337.80 H585.00" stroke="#6b7ec6" stroke-width="1" fill="none"/>
<path d="M588.50 321.00 V342.00 M587.00 321.00 H590.00 M587.00 342.00 H590.00" stroke="#6b7ec6" stroke-width="1" fill="none"/>
<path d="M592.50 308.40 V341.40 M591.00 308.40 H594.00 M591.00 341.40 H594.00" stroke="#6b7ec6" stroke-width="1" fill="none"/>
<path d="M601.50 320.30 V338.30 M600.00 320.30 H603.00 M600.00 338.30 H603.00" stroke="#6b7ec6" stroke-width="1" fill="none"/>
<path d="M605.50 337.60 V354.60 M604.00 337.60 H607.00 M604.00 354.60 H607.00" stroke="#6b7ec6" stroke-width="1" fill="none"/>
<path d="M610.50 330.10 V338.10 M609.00 330.10 H612.00 M609.00 338.10 H612.00" stroke="#6b7ec6" stroke-width="1" fill="none"/>
<path d="M614.50 314.20 V337.20 M613.00 314.20 H616.00 M613.00 337.20 H616.00" stroke="#6b7ec6" stroke-width="1" fill="none"/>
<path d="M618.50 323.80 V334.80 M617.00 323.80 H620.00 M617.00 334.80 H620.00" stroke="#6b7ec6" stroke-width="1" fill="none"/>
<circle cx="469.30" cy="372.50" r="3.35" fill="#fff" stroke="#4f65bf" stroke-width="1.0"/>
<circle cx="473.70" cy="377.40" r="3.35" fill="#fff" stroke="#4f65bf" stroke-width="1.0"/>
<circle cx="478.10" cy="376.70" r="3.35" fill="#fff" stroke="#4f65bf" stroke-width="1.0"/>
<circle cx="482.50" cy="379.20" r="3.35" fill="#fff" stroke="#4f65bf" stroke-width="1.0"/>
<circle cx="486.90" cy="373.90" r="3.35" fill="#fff" stroke="#4f65bf" stroke-width="1.0"/>
<circle cx="491.30" cy="374.20" r="3.35" fill="#fff" stroke="#4f65bf" stroke-width="1.0"/>
<circle cx="495.70" cy="374.60" r="3.35" fill="#fff" stroke="#4f65bf" stroke-width="1.0"/>
<circle cx="500.10" cy="368.20" r="3.35" fill="#fff" stroke="#4f65bf" stroke-width="1.0"/>
<circle cx="504.50" cy="360.10" r="3.35" fill="#fff" stroke="#4f65bf" stroke-width="1.0"/>
<circle cx="508.90" cy="367.80" r="3.35" fill="#fff" stroke="#4f65bf" stroke-width="1.0"/>
<circle cx="513.30" cy="360.50" r="3.35" fill="#fff" stroke="#4f65bf" stroke-width="1.0"/>
<circle cx="517.70" cy="359.50" r="3.35" fill="#fff" stroke="#4f65bf" stroke-width="1.0"/>
<circle cx="522.10" cy="356.70" r="3.35" fill="#fff" stroke="#4f65bf" stroke-width="1.0"/>
<circle cx="526.50" cy="362.90" r="3.35" fill="#fff" stroke="#4f65bf" stroke-width="1.0"/>
<circle cx="530.90" cy="347.80" r="3.35" fill="#fff" stroke="#4f65bf" stroke-width="1.0"/>
<circle cx="535.30" cy="353.10" r="3.35" fill="#fff" stroke="#4f65bf" stroke-width="1.0"/>
<circle cx="539.70" cy="352.70" r="3.35" fill="#fff" stroke="#4f65bf" stroke-width="1.0"/>
<circle cx="544.10" cy="351.60" r="3.35" fill="#fff" stroke="#4f65bf" stroke-width="1.0"/>
<circle cx="548.50" cy="349.70" r="3.35" fill="#fff" stroke="#4f65bf" stroke-width="1.0"/>
<circle cx="552.90" cy="346.80" r="3.35" fill="#fff" stroke="#4f65bf" stroke-width="1.0"/>
<circle cx="557.30" cy="343.20" r="3.35" fill="#fff" stroke="#4f65bf" stroke-width="1.0"/>
<circle cx="561.70" cy="346.80" r="3.35" fill="#fff" stroke="#4f65bf" stroke-width="1.0"/>
<circle cx="566.10" cy="348.30" r="3.35" fill="#fff" stroke="#4f65bf" stroke-width="1.0"/>
<circle cx="570.50" cy="338.50" r="3.35" fill="#fff" stroke="#4f65bf" stroke-width="1.0"/>
<circle cx="574.90" cy="341.00" r="3.35" fill="#fff" stroke="#4f65bf" stroke-width="1.0"/>
<circle cx="579.30" cy="341.00" r="3.35" fill="#fff" stroke="#4f65bf" stroke-width="1.0"/>
<circle cx="583.70" cy="331.80" r="3.35" fill="#fff" stroke="#4f65bf" stroke-width="1.0"/>
<circle cx="588.10" cy="331.50" r="3.35" fill="#fff" stroke="#4f65bf" stroke-width="1.0"/>
<circle cx="592.50" cy="324.90" r="3.35" fill="#fff" stroke="#4f65bf" stroke-width="1.0"/>
<circle cx="596.90" cy="329.30" r="3.35" fill="#fff" stroke="#4f65bf" stroke-width="1.0"/>
<circle cx="601.30" cy="329.30" r="3.35" fill="#fff" stroke="#4f65bf" stroke-width="1.0"/>
<circle cx="605.70" cy="346.10" r="3.35" fill="#fff" stroke="#4f65bf" stroke-width="1.0"/>
<circle cx="610.10" cy="334.10" r="3.35" fill="#fff" stroke="#4f65bf" stroke-width="1.0"/>
<circle cx="614.50" cy="325.70" r="3.35" fill="#fff" stroke="#4f65bf" stroke-width="1.0"/>
<circle cx="618.90" cy="329.30" r="3.35" fill="#fff" stroke="#4f65bf" stroke-width="1.0"/>
<line x1="468.20" y1="312.20" x2="484.50" y2="312.20" stroke="#222" stroke-width="1.1"/>
<circle cx="475.90" cy="312.20" r="3.6" fill="#fff" stroke="#4f65bf" stroke-width="1.0"/>
<text x="491.60" y="314.30" font-size="11" text-anchor="start" font-weight="normal" font-style="normal" fill="#111" >Negative-eGFP+</text>
<text x="491.60" y="328.10" font-size="11" text-anchor="start" font-weight="normal" font-style="normal" fill="#111" >(<tspan font-style="italic">n</tspan> = 7)</text>
<line x1="598.60" y1="308.40" x2="618.30" y2="308.40" stroke="#333" stroke-width="1.3"/>
<polygon points="602.80,297.00 603.49,298.65 605.27,298.80 603.91,299.96 604.33,301.70 602.80,300.77 601.27,301.70 601.69,299.96 600.33,298.80 602.11,298.65" fill="#111" stroke="#111" stroke-width="0.3" stroke-linejoin="round"/>
<polygon points="609.40,297.00 610.09,298.65 611.87,298.80 610.51,299.96 610.93,301.70 609.40,300.77 607.87,301.70 608.29,299.96 606.93,298.80 608.71,298.65" fill="#111" stroke="#111" stroke-width="0.3" stroke-linejoin="round"/>
<polygon points="616.00,297.00 616.69,298.65 618.47,298.80 617.11,299.96 617.53,301.70 616.00,300.77 614.47,301.70 614.89,299.96 613.53,298.80 615.31,298.65" fill="#111" stroke="#111" stroke-width="0.3" stroke-linejoin="round"/>
<path d="M638.50 338.00 C638.83 342.00 639.87 354.95 640.50 362.00 C641.13 369.05 641.72 377.80 642.30 380.30 C642.88 382.80 643.38 378.97 644.00 377.00 C644.62 375.03 644.95 373.12 646.00 368.50 C647.05 363.88 648.68 354.65 650.30 349.30 C651.92 343.95 653.55 339.45 655.70 336.40 C657.85 333.35 659.28 332.17 663.20 331.00 C667.12 329.83 676.53 329.67 679.20 329.40" fill="none" stroke="#aaa" stroke-width="0.9"/>
<path d="M637.50 336.00 C637.67 336.33 638.08 335.67 638.50 338.00 C638.92 340.33 639.45 345.63 640.00 350.00 C640.55 354.37 641.22 362.20 641.80 364.20 C642.38 366.20 642.80 363.42 643.50 362.00 C644.20 360.58 644.87 359.25 646.00 355.70 C647.13 352.15 648.68 344.45 650.30 340.70 C651.92 336.95 653.55 334.90 655.70 333.20 C657.85 331.50 659.28 331.13 663.20 330.50 C667.12 329.87 676.53 329.58 679.20 329.40" fill="none" stroke="#2a2a2a" stroke-width="1.1"/>
<line x1="632.10" y1="328.40" x2="637.50" y2="328.40" stroke="#333" stroke-width="1"/>
<line x1="637.50" y1="325.20" x2="637.50" y2="337.50" stroke="#333" stroke-width="1"/>
<path d="M662.30 375.10 V394.80 H644.10" fill="none" stroke="#727272" stroke-width="1.3"/>
<text x="0" y="0" font-size="12.5" text-anchor="middle" fill="#111" transform="translate(676.00 374.30) rotate(-90)">100 pA</text>
<text x="659.80" y="408.30" font-size="12.5" text-anchor="middle" font-weight="normal" font-style="normal" fill="#111" >15 ms</text>
<text x="394.30" y="491.00" font-size="19" text-anchor="start" font-weight="bold" font-style="normal" fill="#000" >e</text>
<text x="417.70" y="496.00" font-size="13" text-anchor="start" font-weight="normal" font-style="normal" fill="#111" ><tspan font-style="italic">A<tspan dx="1.2" font-size="9.3" baseline-shift="-3.8">2&#8201;</tspan>A-Cre<tspan dx="0" font-size="9.3" baseline-shift="5.6">+/&#8211;</tspan> :: iDTR<tspan dx="0" font-size="9.3" baseline-shift="5.6">+/&#8211;</tspan> :: Drd1a-GFP<tspan dx="0" font-size="9.3" baseline-shift="5.6">+/&#8211;</tspan></tspan> mice</text>
<line x1="490.90" y1="517.40" x2="490.90" y2="624.60" stroke="#888" stroke-width="1.0" stroke-dasharray="3 2.5"/>
<line x1="458.30" y1="588.80" x2="495.00" y2="588.80" stroke="#444" stroke-width="1"/>
<line x1="500.00" y1="588.80" x2="620.00" y2="588.80" stroke="#707070" stroke-width="1.8" stroke-dasharray="6.5 7.3"/>
<path d="M458.30 517.40 L458.30 624.60 L618.70 624.60" fill="none" stroke="#222" stroke-width="1.2"/>
<line x1="458.30" y1="517.40" x2="461.30" y2="517.40" stroke="#222" stroke-width="1.1"/>
<text x="452.80" y="522.00" font-size="13" text-anchor="end" font-weight="normal" font-style="normal" fill="#111" >200</text>
<line x1="458.30" y1="553.00" x2="461.30" y2="553.00" stroke="#222" stroke-width="1.1"/>
<text x="452.80" y="557.60" font-size="13" text-anchor="end" font-weight="normal" font-style="normal" fill="#111" >150</text>
<line x1="458.30" y1="588.60" x2="461.30" y2="588.60" stroke="#222" stroke-width="1.1"/>
<text x="452.80" y="593.20" font-size="13" text-anchor="end" font-weight="normal" font-style="normal" fill="#111" >100</text>
<line x1="458.30" y1="624.60" x2="461.30" y2="624.60" stroke="#222" stroke-width="1.1"/>
<text x="452.80" y="629.20" font-size="13" text-anchor="end" font-weight="normal" font-style="normal" fill="#111" >50</text>
<line x1="466.00" y1="624.60" x2="466.00" y2="621.60" stroke="#222" stroke-width="1.1"/>
<line x1="491.40" y1="624.60" x2="491.40" y2="621.60" stroke="#222" stroke-width="1.1"/>
<line x1="516.80" y1="624.60" x2="516.80" y2="621.60" stroke="#222" stroke-width="1.1"/>
<line x1="542.20" y1="624.60" x2="542.20" y2="621.60" stroke="#222" stroke-width="1.1"/>
<line x1="567.60" y1="624.60" x2="567.60" y2="621.60" stroke="#222" stroke-width="1.1"/>
<line x1="593.00" y1="624.60" x2="593.00" y2="621.60" stroke="#222" stroke-width="1.1"/>
<line x1="618.40" y1="624.60" x2="618.40" y2="621.60" stroke="#222" stroke-width="1.1"/>
<text x="466.00" y="641.60" font-size="13" text-anchor="middle" font-weight="normal" font-style="normal" fill="#111" >0</text>
<text x="491.40" y="641.60" font-size="13" text-anchor="middle" font-weight="normal" font-style="normal" fill="#111" >10</text>
<text x="542.20" y="641.60" font-size="13" text-anchor="middle" font-weight="normal" font-style="normal" fill="#111" >30</text>
<text x="593.00" y="641.60" font-size="13" text-anchor="middle" font-weight="normal" font-style="normal" fill="#111" >50</text>
<text x="0" y="0" font-size="13" text-anchor="middle" fill="#111" transform="translate(420.60 571.50) rotate(-90)">Normalized EPSC (%)</text>
<text x="538.30" y="659.40" font-size="13" text-anchor="middle" font-weight="normal" font-style="normal" fill="#111" >Time (min)</text>
<path d="M496.50 576.10 V586.10 M495.00 576.10 H498.00 M495.00 586.10 H498.00" stroke="#6b7ec6" stroke-width="1" fill="none"/>
<path d="M501.50 579.00 V591.00 M500.00 579.00 H503.00 M500.00 591.00 H503.00" stroke="#6b7ec6" stroke-width="1" fill="none"/>
<path d="M506.50 573.40 V586.40 M505.00 573.40 H508.00 M505.00 586.40 H508.00" stroke="#6b7ec6" stroke-width="1" fill="none"/>
<path d="M511.50 564.60 V585.60 M510.00 564.60 H513.00 M510.00 585.60 H513.00" stroke="#6b7ec6" stroke-width="1" fill="none"/>
<path d="M516.50 557.90 V577.90 M515.00 557.90 H518.00 M515.00 577.90 H518.00" stroke="#6b7ec6" stroke-width="1" fill="none"/>
<path d="M521.50 557.90 V577.90 M520.00 557.90 H523.00 M520.00 577.90 H523.00" stroke="#6b7ec6" stroke-width="1" fill="none"/>
<path d="M526.50 559.20 V577.20 M525.00 559.20 H528.00 M525.00 577.20 H528.00" stroke="#6b7ec6" stroke-width="1" fill="none"/>
<path d="M532.50 566.30 V580.30 M531.00 566.30 H534.00 M531.00 580.30 H534.00" stroke="#6b7ec6" stroke-width="1" fill="none"/>
<path d="M537.50 567.80 V578.80 M536.00 567.80 H539.00 M536.00 578.80 H539.00" stroke="#6b7ec6" stroke-width="1" fill="none"/>
<path d="M542.50 559.20 V577.20 M541.00 559.20 H544.00 M541.00 577.20 H544.00" stroke="#6b7ec6" stroke-width="1" fill="none"/>
<path d="M547.50 546.00 V576.00 M546.00 546.00 H549.00 M546.00 576.00 H549.00" stroke="#6b7ec6" stroke-width="1" fill="none"/>
<path d="M552.50 544.60 V570.60 M551.00 544.60 H554.00 M551.00 570.60 H554.00" stroke="#6b7ec6" stroke-width="1" fill="none"/>
<path d="M557.50 553.50 V573.50 M556.00 553.50 H559.00 M556.00 573.50 H559.00" stroke="#6b7ec6" stroke-width="1" fill="none"/>
<path d="M562.50 548.00 V571.40 M561.00 548.00 H564.00 M561.00 571.40 H564.00" stroke="#6b7ec6" stroke-width="1" fill="none"/>
<path d="M567.50 541.20 V569.80 M566.00 541.20 H569.00 M566.00 569.80 H569.00" stroke="#6b7ec6" stroke-width="1" fill="none"/>
<path d="M572.50 548.30 V572.30 M571.00 548.30 H574.00 M571.00 572.30 H574.00" stroke="#6b7ec6" stroke-width="1" fill="none"/>
<path d="M577.50 544.10 V568.10 M576.00 544.10 H579.00 M576.00 568.10 H579.00" stroke="#6b7ec6" stroke-width="1" fill="none"/>
<path d="M582.50 541.60 V567.60 M581.00 541.60 H584.00 M581.00 567.60 H584.00" stroke="#6b7ec6" stroke-width="1" fill="none"/>
<path d="M587.50 530.10 V565.10 M586.00 530.10 H589.00 M586.00 565.10 H589.00" stroke="#6b7ec6" stroke-width="1" fill="none"/>
<path d="M593.50 532.30 V564.30 M592.00 532.30 H595.00 M592.00 564.30 H595.00" stroke="#6b7ec6" stroke-width="1" fill="none"/>
<path d="M598.50 526.50 V562.50 M597.00 526.50 H600.00 M597.00 562.50 H600.00" stroke="#6b7ec6" stroke-width="1" fill="none"/>
<path d="M603.50 539.40 V563.40 M602.00 539.40 H605.00 M602.00 563.40 H605.00" stroke="#6b7ec6" stroke-width="1" fill="none"/>
<path d="M608.50 530.10 V563.10 M607.00 530.10 H610.00 M607.00 563.10 H610.00" stroke="#6b7ec6" stroke-width="1" fill="none"/>
<path d="M613.50 537.10 V555.10 M612.00 537.10 H615.00 M612.00 555.10 H615.00" stroke="#6b7ec6" stroke-width="1" fill="none"/>
<path d="M618.50 545.70 V556.70 M617.00 545.70 H620.00 M617.00 556.70 H620.00" stroke="#6b7ec6" stroke-width="1" fill="none"/>
<circle cx="471.08" cy="586.20" r="3.35" fill="#fff" stroke="#4f65bf" stroke-width="1.0"/>
<circle cx="476.16" cy="595.70" r="3.35" fill="#fff" stroke="#4f65bf" stroke-width="1.0"/>
<circle cx="481.24" cy="587.20" r="3.35" fill="#fff" stroke="#4f65bf" stroke-width="1.0"/>
<circle cx="486.32" cy="589.70" r="3.35" fill="#fff" stroke="#4f65bf" stroke-width="1.0"/>
<circle cx="491.40" cy="586.10" r="3.35" fill="#fff" stroke="#4f65bf" stroke-width="1.0"/>
<circle cx="496.48" cy="581.10" r="3.35" fill="#fff" stroke="#4f65bf" stroke-width="1.0"/>
<circle cx="501.56" cy="585.00" r="3.35" fill="#fff" stroke="#4f65bf" stroke-width="1.0"/>
<circle cx="506.64" cy="579.90" r="3.35" fill="#fff" stroke="#4f65bf" stroke-width="1.0"/>
<circle cx="511.72" cy="575.10" r="3.35" fill="#fff" stroke="#4f65bf" stroke-width="1.0"/>
<circle cx="516.80" cy="567.90" r="3.35" fill="#fff" stroke="#4f65bf" stroke-width="1.0"/>
<circle cx="521.88" cy="567.90" r="3.35" fill="#fff" stroke="#4f65bf" stroke-width="1.0"/>
<circle cx="526.96" cy="568.20" r="3.35" fill="#fff" stroke="#4f65bf" stroke-width="1.0"/>
<circle cx="532.04" cy="573.30" r="3.35" fill="#fff" stroke="#4f65bf" stroke-width="1.0"/>
<circle cx="537.12" cy="573.30" r="3.35" fill="#fff" stroke="#4f65bf" stroke-width="1.0"/>
<circle cx="542.20" cy="568.20" r="3.35" fill="#fff" stroke="#4f65bf" stroke-width="1.0"/>
<circle cx="547.28" cy="561.00" r="3.35" fill="#fff" stroke="#4f65bf" stroke-width="1.0"/>
<circle cx="552.36" cy="557.60" r="3.35" fill="#fff" stroke="#4f65bf" stroke-width="1.0"/>
<circle cx="557.44" cy="563.50" r="3.35" fill="#fff" stroke="#4f65bf" stroke-width="1.0"/>
<circle cx="562.52" cy="559.70" r="3.35" fill="#fff" stroke="#4f65bf" stroke-width="1.0"/>
<circle cx="567.60" cy="555.50" r="3.35" fill="#fff" stroke="#4f65bf" stroke-width="1.0"/>
<circle cx="572.68" cy="560.30" r="3.35" fill="#fff" stroke="#4f65bf" stroke-width="1.0"/>
<circle cx="577.76" cy="556.10" r="3.35" fill="#fff" stroke="#4f65bf" stroke-width="1.0"/>
<circle cx="582.84" cy="554.60" r="3.35" fill="#fff" stroke="#4f65bf" stroke-width="1.0"/>
<circle cx="587.92" cy="547.60" r="3.35" fill="#fff" stroke="#4f65bf" stroke-width="1.0"/>
<circle cx="593.00" cy="548.30" r="3.35" fill="#fff" stroke="#4f65bf" stroke-width="1.0"/>
<circle cx="598.08" cy="544.50" r="3.35" fill="#fff" stroke="#4f65bf" stroke-width="1.0"/>
<circle cx="603.16" cy="551.40" r="3.35" fill="#fff" stroke="#4f65bf" stroke-width="1.0"/>
<circle cx="608.24" cy="546.60" r="3.35" fill="#fff" stroke="#4f65bf" stroke-width="1.0"/>
<circle cx="613.32" cy="546.10" r="3.35" fill="#fff" stroke="#4f65bf" stroke-width="1.0"/>
<circle cx="618.40" cy="551.20" r="3.35" fill="#fff" stroke="#4f65bf" stroke-width="1.0"/>
<line x1="468.00" y1="529.30" x2="483.50" y2="529.30" stroke="#222" stroke-width="1.1"/>
<circle cx="475.80" cy="529.30" r="3.6" fill="#fff" stroke="#4f65bf" stroke-width="1.0"/>
<text x="494.90" y="531.50" font-size="13" text-anchor="start" font-weight="normal" font-style="normal" fill="#111" >+ DT</text>
<text x="494.90" y="545.80" font-size="12" text-anchor="start" font-weight="normal" font-style="normal" fill="#111" >(<tspan font-style="italic">n</tspan> = 7)</text>
<line x1="598.10" y1="521.40" x2="617.70" y2="521.40" stroke="#333" stroke-width="1.3"/>
<polygon points="601.70,512.00 602.33,513.53 603.98,513.66 602.73,514.73 603.11,516.34 601.70,515.48 600.29,516.34 600.67,514.73 599.42,513.66 601.07,513.53" fill="#111" stroke="#111" stroke-width="0.3" stroke-linejoin="round"/>
<polygon points="606.80,512.00 607.43,513.53 609.08,513.66 607.83,514.73 608.21,516.34 606.80,515.48 605.39,516.34 605.77,514.73 604.52,513.66 606.17,513.53" fill="#111" stroke="#111" stroke-width="0.3" stroke-linejoin="round"/>
<polygon points="611.90,512.00 612.53,513.53 614.18,513.66 612.93,514.73 613.31,516.34 611.90,515.48 610.49,516.34 610.87,514.73 609.62,513.66 611.27,513.53" fill="#111" stroke="#111" stroke-width="0.3" stroke-linejoin="round"/>
<path d="M639.50 556.00 C639.83 560.00 640.90 572.58 641.50 580.00 C642.10 587.42 642.52 597.83 643.10 600.50 C643.68 603.17 644.35 599.42 645.00 596.00 C645.65 592.58 646.33 585.50 647.00 580.00 C647.67 574.50 648.33 567.17 649.00 563.00 C649.67 558.83 650.00 556.83 651.00 555.00 C652.00 553.17 653.50 552.70 655.00 552.00 C656.50 551.30 656.23 551.07 660.00 550.80 C663.77 550.53 674.67 550.47 677.60 550.40" fill="none" stroke="#aaa" stroke-width="0.9"/>
<path d="M637.60 552.00 C637.92 552.67 638.88 553.00 639.50 556.00 C640.12 559.00 640.70 565.22 641.30 570.00 C641.90 574.78 642.40 583.03 643.10 584.70 C643.80 586.37 644.68 583.28 645.50 580.00 C646.32 576.72 647.25 569.17 648.00 565.00 C648.75 560.83 649.00 557.17 650.00 555.00 C651.00 552.83 652.58 552.70 654.00 552.00 C655.42 551.30 656.17 551.05 658.50 550.80 C660.83 550.55 664.82 550.57 668.00 550.50 C671.18 550.43 676.00 550.42 677.60 550.40" fill="none" stroke="#2a2a2a" stroke-width="1.1"/>
<line x1="631.00" y1="549.10" x2="637.40" y2="549.10" stroke="#333" stroke-width="1"/>
<line x1="637.40" y1="541.30" x2="637.40" y2="552.50" stroke="#333" stroke-width="1"/>
<path d="M659.20 593.50 V612.10 H645.40" fill="none" stroke="#727272" stroke-width="1.3"/>
<text x="0" y="0" font-size="12.5" text-anchor="middle" fill="#111" transform="translate(674.00 590.00) rotate(-90)">100 pA</text>
<text x="657.30" y="625.10" font-size="12.5" text-anchor="middle" font-weight="normal" font-style="normal" fill="#111" >15 ms</text>
<defs><filter id="grainD" x="0" y="0" width="100%" height="100%"><feTurbulence type="fractalNoise" baseFrequency="0.75" numOctaves="2" seed="7" result="n"/><feColorMatrix in="n" type="matrix" values="0 0 0 0 0.1  0 0 0 0 0.1  0 0 0 0 0.1  -3 0 0 0 1.75"/></filter><filter id="grainL" x="0" y="0" width="100%" height="100%"><feTurbulence type="fractalNoise" baseFrequency="0.8" numOctaves="2" seed="11" result="n"/><feColorMatrix in="n" type="matrix" values="0 0 0 0 0.8  0 0 0 0 0.8  0 0 0 0 0.8  3 0 0 0 -1.55"/></filter><filter id="blur1"><feGaussianBlur stdDeviation="1.2"/></filter><filter id="blur05"><feGaussianBlur stdDeviation="0.6"/></filter><filter id="blur2"><feGaussianBlur stdDeviation="2.5"/></filter><filter id="grainDense" x="0" y="0" width="100%" height="100%"><feTurbulence type="fractalNoise" baseFrequency="1.1" numOctaves="2" seed="5" result="n"/><feColorMatrix in="n" type="matrix" values="0 0 0 0 0.22  0 0 0 0 0.22  0 0 0 0 0.22  -6 0 0 0 3.45"/></filter><radialGradient id="rgM" cx="0.5" cy="0.5" r="0.5"><stop offset="0" stop-color="#fff"/><stop offset="0.6" stop-color="#fff" stop-opacity="0.7"/><stop offset="1" stop-color="#fff" stop-opacity="0"/></radialGradient><mask id="mR" maskUnits="userSpaceOnUse" x="0" y="480" width="260" height="170"><ellipse cx="170" cy="586" rx="34" ry="34" fill="url(#rgM)"/><ellipse cx="110" cy="567" rx="8" ry="16" fill="url(#rgM)" opacity="0.7"/><ellipse cx="123" cy="586" rx="8" ry="16" fill="url(#rgM)"/></mask><clipPath id="brainclip"><rect x="17" y="488.5" width="224" height="157.5"/></clipPath><radialGradient id="rg1" cx="0.5" cy="0.5" r="0.5"><stop offset="0" stop-color="#8a8a8a" stop-opacity="0.9"/><stop offset="1" stop-color="#8a8a8a" stop-opacity="0"/></radialGradient></defs>
<g clip-path="url(#brainclip)">
<rect x="17" y="488.5" width="224" height="157.5" fill="#f3f3f3"/>
<line x1="29" y1="488" x2="29.5" y2="646" stroke="#cfcfcf" stroke-width="1"/>
<g fill="none" stroke="#8f8f8f" stroke-width="1.8" stroke-dasharray="1.6 0.9 2.2 1.3 1 0.7 2.6 1.1" filter="url(#blur05)">
<path d="M30 575 C25 545 38 518 62 508 C82 501 104 500 117 505"/>
<path d="M118 505 C116 512 116 522 119 530"/>
<path d="M126 505 C150 499 185 503 205 518 C220 532 222 550 218 565"/>
<path d="M126 505 C123 512 123 522 125 530"/>
</g>
<g fill="none" stroke="#a8a8a8" stroke-width="1.5" stroke-dasharray="1.2 1.4 2 0.9 0.8 1.6 1.8 1" filter="url(#blur05)">
<path d="M36 565 C36 540 50 526 74 518 C92 513 106 513 114 516"/>
<path d="M130 515 C152 512 180 515 198 528 C208 538 211 550 209 562"/>
<path d="M33 598 C45 610 65 618 100 620 C135 622 165 618 185 614"/>
</g>
<ellipse cx="121.5" cy="580" rx="4.5" ry="15" fill="#9a9a9a" filter="url(#blur2)"/>
<ellipse cx="111" cy="562" rx="5" ry="9" fill="#c8c8c8" filter="url(#blur2)"/>
<rect x="90" y="540" width="140" height="90" filter="url(#grainDense)" mask="url(#mR)" opacity="1"/>
<ellipse cx="168" cy="598" rx="18" ry="10" fill="#888" opacity="0.7" filter="url(#blur2)"/>
<path d="M137.5 587 C137.5 581 142 579.5 146 580 C150 581 152 584 151.5 589 C151 593.5 146 595 142 594 C139 593 137.5 591 137.5 587Z" fill="none" stroke="#777" stroke-width="2.6" filter="url(#blur1)"/>
<path d="M151 615 C152 609 158 606 164 608 C168 604 178 603 185 607 C189 611 187 616 180 616.5 C172 617 165 615 160 617 C156 618.5 152 618 151 615Z" fill="#2e2e2e" filter="url(#blur1)"/>
<path d="M160 606 L170 596 M168 606 L178 595" stroke="#555" stroke-width="3" filter="url(#blur1)"/>
<path d="M195 605 C202 602 207 598 210.5 588" fill="none" stroke="#5a5a5a" stroke-width="2.6" filter="url(#blur1)"/>
<path d="M46.5 566 C45.5 548 56 535.5 75 534 C94 533 103 543 103.5 558 C104 574 99 588 92 595 C86 600 78 601 70 599 C60 596 52 588 49 580 C47.5 575 46.5 570 46.5 566Z" fill="#252525" filter="url(#blur1)"/>
<path d="M63 594 L92 594 L93 606 L89 611 L84 606 L80 609 L76 606 L71 609 L66 604Z" fill="#2a2a2a" filter="url(#blur1)"/>
<path d="M71 613.5 C75 610.5 88 610.5 94 614 C95 619 88 620.5 80 620.5 C73 620.5 69.5 617 71 613.5Z" fill="#1c1c1c" filter="url(#blur1)"/>
<path d="M56 607 C58 602 66 602 69 607 C70 612 66 614 62 613 C58 612 56 611 56 607Z" fill="#1c1c1c" filter="url(#blur1)"/>
<path d="M33 585 C40 593 48 600 58 605" fill="none" stroke="#2a2a2a" stroke-width="3.2" filter="url(#blur1)"/>
<path d="M97 580.5 C102 579 107 583 106.5 589 C106 594 101 596 97 594.5" fill="none" stroke="#3a3a3a" stroke-width="3" filter="url(#blur1)"/>
<path d="M102 596 C98 603 94 607 90 609" fill="none" stroke="#888" stroke-width="2.2" filter="url(#blur1)"/>
<ellipse cx="76" cy="565" rx="22" ry="24" fill="#fff" opacity="0.06" filter="url(#blur2)"/>
<rect x="17" y="488.5" width="224" height="157.5" filter="url(#grainD)" opacity="0.22"/>
<rect x="17" y="488.5" width="224" height="157.5" filter="url(#grainL)" opacity="0.5"/>
</g>
<text x="14.20" y="491.30" font-size="19" text-anchor="start" font-weight="bold" font-style="normal" fill="#000" >d</text>
<text x="48.70" y="495.30" font-size="13" text-anchor="start" font-weight="normal" font-style="normal" fill="#111" >Without DT</text>
<text x="143.10" y="495.50" font-size="13" text-anchor="start" font-weight="normal" font-style="normal" fill="#111" >With DT</text>
<line x1="77.7" y1="501.4" x2="77.7" y2="537" stroke="#000" stroke-width="1.5"/>
<path d="M73.2 535.9 L82.2 535.9 L77.7 544Z" fill="#000"/>
<line x1="162.1" y1="500.7" x2="162.1" y2="540" stroke="#000" stroke-width="1.5"/>
<path d="M157.6 539.2 L166.6 539.2 L162.1 547.3Z" fill="#000"/>
<line x1="213.8" y1="631" x2="237.1" y2="631" stroke="#000" stroke-width="2.6"/>
<text x="15.60" y="660.30" font-size="13" text-anchor="start" font-weight="normal" font-style="normal" fill="#111" ><tspan font-style="italic">A<tspan dx="1.2" font-size="9.3" baseline-shift="-3.8">2&#8201;</tspan>A-Cre<tspan dx="0" font-size="9.3" baseline-shift="5.6">+/&#8211;</tspan>:: iDTR<tspan dx="0" font-size="9.3" baseline-shift="5.6">+/&#8211;</tspan> :: Drd1a-GFP<tspan dx="0" font-size="9.3" baseline-shift="5.6">+/&#8211;</tspan></tspan> mice</text>
<rect x="304.4" y="511.4" width="26.7" height="114.8" fill="#d0d0d0" stroke="#8a8a8a" stroke-width="1"/>
<rect x="331.8" y="604.9" width="28.2" height="21.3" fill="#d0d0d0" stroke="#8a8a8a" stroke-width="1"/>
<path d="M302.7 498.4 V626.2" stroke="#222" stroke-width="1.2"/>
<line x1="299.2" y1="511.4" x2="302.7" y2="511.4" stroke="#222" stroke-width="1.1"/>
<text x="297.50" y="516.00" font-size="13" text-anchor="end" font-weight="normal" font-style="normal" fill="#111" >100</text>
<line x1="299.2" y1="568.9" x2="302.7" y2="568.9" stroke="#222" stroke-width="1.1"/>
<text x="297.50" y="573.50" font-size="13" text-anchor="end" font-weight="normal" font-style="normal" fill="#111" >50</text>
<line x1="299.2" y1="626.2" x2="302.7" y2="626.2" stroke="#222" stroke-width="1.1"/>
<text x="297.50" y="630.80" font-size="13" text-anchor="end" font-weight="normal" font-style="normal" fill="#111" >0</text>
<path d="M315.7 511.4 V508.6 M311 508.6 H319.3 M346.5 604.9 V603 M343 603 H350" stroke="#222" stroke-width="1.2"/>
<line x1="315.30" y1="502.30" x2="346.50" y2="502.30" stroke="#333" stroke-width="1.3"/>
<polygon points="326.40,493.20 327.09,494.85 328.87,495.00 327.51,496.16 327.93,497.90 326.40,496.97 324.87,497.90 325.29,496.16 323.93,495.00 325.71,494.85" fill="#111" stroke="#111" stroke-width="0.3" stroke-linejoin="round"/>
<polygon points="332.50,493.20 333.19,494.85 334.97,495.00 333.61,496.16 334.03,497.90 332.50,496.97 330.97,497.90 331.39,496.16 330.03,495.00 331.81,494.85" fill="#111" stroke="#111" stroke-width="0.3" stroke-linejoin="round"/>
<polygon points="339.20,493.20 339.89,494.85 341.67,495.00 340.31,496.16 340.73,497.90 339.20,496.97 337.67,497.90 338.09,496.16 336.73,495.00 338.51,494.85" fill="#111" stroke="#111" stroke-width="0.3" stroke-linejoin="round"/>
<text x="0" y="0" font-size="13" text-anchor="middle" fill="#111" transform="translate(264.90 568.80) rotate(-90)">ENK mRNA levels (%)</text>
<text x="0" y="0" font-size="13" text-anchor="middle" fill="#111" transform="translate(316.10 651.60) rotate(-90)">Without</text>
<text x="0" y="0" font-size="13" text-anchor="middle" fill="#111" transform="translate(331.00 652.00) rotate(-90)">DT</text>
<text x="0" y="0" font-size="13" text-anchor="middle" fill="#111" transform="translate(352.40 654.00) rotate(-90)">With DT</text>
<text x="15.00" y="714.50" font-size="19" text-anchor="start" font-weight="bold" font-style="normal" fill="#000" >f</text>
<text x="104.00" y="720.20" font-size="13" text-anchor="start" font-weight="normal" font-style="normal" fill="#111" ><tspan font-style="italic">A<tspan dx="1.2" font-size="9.3" baseline-shift="-3.8">2&#8201;</tspan>A-Cre<tspan dx="0" font-size="9.3" baseline-shift="5.6">+/&#8211;</tspan>:: Drd2<tspan dx="0" font-size="9.3" baseline-shift="5.6">LoxP/LoxP</tspan></tspan> mice</text>
<line x1="134.20" y1="736.00" x2="134.20" y2="847.00" stroke="#b8b8b8" stroke-width="1.3" stroke-dasharray="2.5 2.3"/>
<line x1="100.30" y1="819.90" x2="112.00" y2="819.90" stroke="#444" stroke-width="1"/>
<line x1="137.00" y1="819.90" x2="268.00" y2="819.90" stroke="#707070" stroke-width="1.8" stroke-dasharray="6.5 7.3"/>
<path d="M100.30 736.00 L100.30 847.00 L267.00 847.00" fill="none" stroke="#4a4a4a" stroke-width="1.2"/>
<line x1="100.30" y1="736.00" x2="103.30" y2="736.00" stroke="#4a4a4a" stroke-width="1.1"/>
<text x="94.20" y="740.60" font-size="13" text-anchor="end" font-weight="normal" font-style="normal" fill="#111" >250</text>
<line x1="100.30" y1="764.00" x2="103.30" y2="764.00" stroke="#4a4a4a" stroke-width="1.1"/>
<text x="94.20" y="768.60" font-size="13" text-anchor="end" font-weight="normal" font-style="normal" fill="#111" >200</text>
<line x1="100.30" y1="791.70" x2="103.30" y2="791.70" stroke="#4a4a4a" stroke-width="1.1"/>
<text x="94.20" y="796.30" font-size="13" text-anchor="end" font-weight="normal" font-style="normal" fill="#111" >150</text>
<line x1="100.30" y1="819.60" x2="103.30" y2="819.60" stroke="#4a4a4a" stroke-width="1.1"/>
<text x="94.20" y="824.20" font-size="13" text-anchor="end" font-weight="normal" font-style="normal" fill="#111" >100</text>
<line x1="100.30" y1="847.00" x2="103.30" y2="847.00" stroke="#4a4a4a" stroke-width="1.1"/>
<text x="94.20" y="851.60" font-size="13" text-anchor="end" font-weight="normal" font-style="normal" fill="#111" >50</text>
<line x1="108.10" y1="847.00" x2="108.10" y2="844.00" stroke="#4a4a4a" stroke-width="1.1"/>
<line x1="134.50" y1="847.00" x2="134.50" y2="844.00" stroke="#4a4a4a" stroke-width="1.1"/>
<line x1="160.90" y1="847.00" x2="160.90" y2="844.00" stroke="#4a4a4a" stroke-width="1.1"/>
<line x1="187.30" y1="847.00" x2="187.30" y2="844.00" stroke="#4a4a4a" stroke-width="1.1"/>
<line x1="213.70" y1="847.00" x2="213.70" y2="844.00" stroke="#4a4a4a" stroke-width="1.1"/>
<line x1="240.10" y1="847.00" x2="240.10" y2="844.00" stroke="#4a4a4a" stroke-width="1.1"/>
<line x1="266.50" y1="847.00" x2="266.50" y2="844.00" stroke="#4a4a4a" stroke-width="1.1"/>
<text x="108.10" y="864.00" font-size="13" text-anchor="middle" font-weight="normal" font-style="normal" fill="#111" >0</text>
<text x="134.50" y="864.00" font-size="13" text-anchor="middle" font-weight="normal" font-style="normal" fill="#111" >10</text>
<text x="187.30" y="864.00" font-size="13" text-anchor="middle" font-weight="normal" font-style="normal" fill="#111" >30</text>
<text x="240.10" y="864.00" font-size="13" text-anchor="middle" font-weight="normal" font-style="normal" fill="#111" >50</text>
<text x="0" y="0" font-size="13" text-anchor="middle" fill="#111" transform="translate(59.80 791.70) rotate(-90)">Normalized EPSC (%)</text>
<text x="183.30" y="883.80" font-size="13" text-anchor="middle" font-weight="normal" font-style="normal" fill="#111" >Time (min)</text>
<path d="M118.50 811.70 V825.70 M117.00 811.70 H120.00 M117.00 825.70 H120.00" stroke="#6b7ec6" stroke-width="1" fill="none"/>
<path d="M139.50 806.80 V814.80 M138.00 806.80 H141.00 M138.00 814.80 H141.00" stroke="#6b7ec6" stroke-width="1" fill="none"/>
<path d="M144.50 802.20 V812.20 M143.00 802.20 H146.00 M143.00 812.20 H146.00" stroke="#6b7ec6" stroke-width="1" fill="none"/>
<path d="M149.50 792.30 V809.30 M148.00 792.30 H151.00 M148.00 809.30 H151.00" stroke="#6b7ec6" stroke-width="1" fill="none"/>
<path d="M155.50 794.20 V802.20 M154.00 794.20 H157.00 M154.00 802.20 H157.00" stroke="#6b7ec6" stroke-width="1" fill="none"/>
<path d="M160.50 792.60 V800.60 M159.00 792.60 H162.00 M159.00 800.60 H162.00" stroke="#6b7ec6" stroke-width="1" fill="none"/>
<path d="M165.50 787.50 V802.50 M164.00 787.50 H167.00 M164.00 802.50 H167.00" stroke="#6b7ec6" stroke-width="1" fill="none"/>
<path d="M170.50 778.70 V790.70 M169.00 778.70 H172.00 M169.00 790.70 H172.00" stroke="#6b7ec6" stroke-width="1" fill="none"/>
<path d="M176.50 773.70 V783.70 M175.00 773.70 H178.00 M175.00 783.70 H178.00" stroke="#6b7ec6" stroke-width="1" fill="none"/>
<path d="M181.50 757.00 V781.00 M180.00 757.00 H183.00 M180.00 781.00 H183.00" stroke="#6b7ec6" stroke-width="1" fill="none"/>
<path d="M186.50 758.50 V780.50 M185.00 758.50 H188.00 M185.00 780.50 H188.00" stroke="#6b7ec6" stroke-width="1" fill="none"/>
<path d="M192.50 764.80 V782.80 M191.00 764.80 H194.00 M191.00 782.80 H194.00" stroke="#6b7ec6" stroke-width="1" fill="none"/>
<path d="M197.50 771.80 V783.80 M196.00 771.80 H199.00 M196.00 783.80 H199.00" stroke="#6b7ec6" stroke-width="1" fill="none"/>
<path d="M202.50 772.10 V784.10 M201.00 772.10 H204.00 M201.00 784.10 H204.00" stroke="#6b7ec6" stroke-width="1" fill="none"/>
<path d="M207.50 769.40 V781.40 M206.00 769.40 H209.00 M206.00 781.40 H209.00" stroke="#6b7ec6" stroke-width="1" fill="none"/>
<path d="M213.50 759.40 V775.40 M212.00 759.40 H215.00 M212.00 775.40 H215.00" stroke="#6b7ec6" stroke-width="1" fill="none"/>
<path d="M218.50 756.60 V776.60 M217.00 756.60 H220.00 M217.00 776.60 H220.00" stroke="#6b7ec6" stroke-width="1" fill="none"/>
<path d="M223.50 751.70 V776.70 M222.00 751.70 H225.00 M222.00 776.70 H225.00" stroke="#6b7ec6" stroke-width="1" fill="none"/>
<path d="M229.50 770.60 V789.80 M228.00 770.60 H231.00 M228.00 789.80 H231.00" stroke="#6b7ec6" stroke-width="1" fill="none"/>
<path d="M234.50 774.80 V788.80 M233.00 774.80 H236.00 M233.00 788.80 H236.00" stroke="#6b7ec6" stroke-width="1" fill="none"/>
<path d="M239.50 775.90 V790.90 M238.00 775.90 H241.00 M238.00 790.90 H241.00" stroke="#6b7ec6" stroke-width="1" fill="none"/>
<path d="M244.50 765.60 V783.60 M243.00 765.60 H246.00 M243.00 783.60 H246.00" stroke="#6b7ec6" stroke-width="1" fill="none"/>
<path d="M250.50 757.40 V777.40 M249.00 757.40 H252.00 M249.00 777.40 H252.00" stroke="#6b7ec6" stroke-width="1" fill="none"/>
<path d="M255.50 768.10 V781.10 M254.00 768.10 H257.00 M254.00 781.10 H257.00" stroke="#6b7ec6" stroke-width="1" fill="none"/>
<path d="M260.50 768.70 V783.70 M259.00 768.70 H262.00 M259.00 783.70 H262.00" stroke="#6b7ec6" stroke-width="1" fill="none"/>
<path d="M266.50 765.80 V781.80 M265.00 765.80 H268.00 M265.00 781.80 H268.00" stroke="#6b7ec6" stroke-width="1" fill="none"/>
<circle cx="112.88" cy="823.40" r="3.3" fill="#fff" stroke="#4f65bf" stroke-width="1.0"/>
<circle cx="118.16" cy="818.70" r="3.3" fill="#fff" stroke="#4f65bf" stroke-width="1.0"/>
<circle cx="123.44" cy="816.60" r="3.3" fill="#fff" stroke="#4f65bf" stroke-width="1.0"/>
<circle cx="128.72" cy="819.50" r="3.3" fill="#fff" stroke="#4f65bf" stroke-width="1.0"/>
<circle cx="134.00" cy="815.50" r="3.3" fill="#fff" stroke="#4f65bf" stroke-width="1.0"/>
<circle cx="139.28" cy="810.80" r="3.3" fill="#fff" stroke="#4f65bf" stroke-width="1.0"/>
<circle cx="144.56" cy="807.20" r="3.3" fill="#fff" stroke="#4f65bf" stroke-width="1.0"/>
<circle cx="149.84" cy="800.80" r="3.3" fill="#fff" stroke="#4f65bf" stroke-width="1.0"/>
<circle cx="155.12" cy="798.20" r="3.3" fill="#fff" stroke="#4f65bf" stroke-width="1.0"/>
<circle cx="160.40" cy="796.60" r="3.3" fill="#fff" stroke="#4f65bf" stroke-width="1.0"/>
<circle cx="165.68" cy="795.00" r="3.3" fill="#fff" stroke="#4f65bf" stroke-width="1.0"/>
<circle cx="170.96" cy="784.70" r="3.3" fill="#fff" stroke="#4f65bf" stroke-width="1.0"/>
<circle cx="176.24" cy="778.70" r="3.3" fill="#fff" stroke="#4f65bf" stroke-width="1.0"/>
<circle cx="181.52" cy="769.00" r="3.3" fill="#fff" stroke="#4f65bf" stroke-width="1.0"/>
<circle cx="186.80" cy="769.50" r="3.3" fill="#fff" stroke="#4f65bf" stroke-width="1.0"/>
<circle cx="192.08" cy="773.80" r="3.3" fill="#fff" stroke="#4f65bf" stroke-width="1.0"/>
<circle cx="197.36" cy="777.80" r="3.3" fill="#fff" stroke="#4f65bf" stroke-width="1.0"/>
<circle cx="202.64" cy="778.10" r="3.3" fill="#fff" stroke="#4f65bf" stroke-width="1.0"/>
<circle cx="207.92" cy="775.40" r="3.3" fill="#fff" stroke="#4f65bf" stroke-width="1.0"/>
<circle cx="213.20" cy="767.40" r="3.3" fill="#fff" stroke="#4f65bf" stroke-width="1.0"/>
<circle cx="218.48" cy="766.60" r="3.3" fill="#fff" stroke="#4f65bf" stroke-width="1.0"/>
<circle cx="223.76" cy="764.20" r="3.3" fill="#fff" stroke="#4f65bf" stroke-width="1.0"/>
<circle cx="229.04" cy="780.20" r="3.3" fill="#fff" stroke="#4f65bf" stroke-width="1.0"/>
<circle cx="234.32" cy="781.80" r="3.3" fill="#fff" stroke="#4f65bf" stroke-width="1.0"/>
<circle cx="239.60" cy="783.40" r="3.3" fill="#fff" stroke="#4f65bf" stroke-width="1.0"/>
<circle cx="244.88" cy="774.60" r="3.3" fill="#fff" stroke="#4f65bf" stroke-width="1.0"/>
<circle cx="250.16" cy="767.40" r="3.3" fill="#fff" stroke="#4f65bf" stroke-width="1.0"/>
<circle cx="255.44" cy="774.60" r="3.3" fill="#fff" stroke="#4f65bf" stroke-width="1.0"/>
<circle cx="260.72" cy="776.20" r="3.3" fill="#fff" stroke="#4f65bf" stroke-width="1.0"/>
<circle cx="266.00" cy="773.80" r="3.3" fill="#fff" stroke="#4f65bf" stroke-width="1.0"/>
<line x1="113.80" y1="743.80" x2="128.90" y2="743.80" stroke="#222" stroke-width="1.1"/>
<circle cx="121.40" cy="743.80" r="3.6" fill="#fff" stroke="#4f65bf" stroke-width="1.0"/>
<text x="140.70" y="747.10" font-size="11" text-anchor="start" font-weight="normal" font-style="normal" fill="#111" >(<tspan font-style="italic">n</tspan> = 6)</text>
<line x1="245.00" y1="749.30" x2="264.70" y2="749.30" stroke="#333" stroke-width="1.3"/>
<polygon points="256.40,737.90 257.09,739.55 258.87,739.70 257.51,740.86 257.93,742.60 256.40,741.67 254.87,742.60 255.29,740.86 253.93,739.70 255.71,739.55" fill="#111" stroke="#111" stroke-width="0.3" stroke-linejoin="round"/>
<path d="M287.80 760.00 C288.00 765.00 288.55 780.43 289.00 790.00 C289.45 799.57 290.00 813.73 290.50 817.40 C291.00 821.07 291.55 814.13 292.00 812.00 C292.45 809.87 292.47 810.30 293.20 804.60 C293.93 798.90 295.27 784.40 296.40 777.80 C297.53 771.20 298.57 768.05 300.00 765.00 C301.43 761.95 303.00 760.75 305.00 759.50 C307.00 758.25 308.08 758.07 312.00 757.50 C315.92 756.93 325.75 756.33 328.50 756.10" fill="none" stroke="#aaa" stroke-width="0.9"/>
<path d="M287.00 754.30 C287.22 756.92 287.88 764.38 288.30 770.00 C288.72 775.62 289.13 784.12 289.50 788.00 C289.87 791.88 290.08 793.30 290.50 793.30 C290.92 793.30 291.47 789.87 292.00 788.00 C292.53 786.13 292.78 785.05 293.70 782.10 C294.62 779.15 295.98 773.87 297.50 770.30 C299.02 766.73 300.67 762.83 302.80 760.70 C304.93 758.57 306.02 758.27 310.30 757.50 C314.58 756.73 325.47 756.33 328.50 756.10" fill="none" stroke="#2a2a2a" stroke-width="1.1"/>
<line x1="281.20" y1="754.00" x2="287.30" y2="754.00" stroke="#333" stroke-width="1"/>
<line x1="286.50" y1="748.90" x2="286.50" y2="754.30" stroke="#333" stroke-width="1"/>
<path d="M322.40 785.90 V811.40 H306.30" fill="none" stroke="#727272" stroke-width="1.3"/>
<text x="0" y="0" font-size="12.5" text-anchor="middle" fill="#111" transform="translate(336.50 794.20) rotate(-90)">100 pA</text>
<text x="317.40" y="827.60" font-size="12.5" text-anchor="middle" font-weight="normal" font-style="normal" fill="#111" >15 ms</text>
<text x="394.80" y="706.60" font-size="19" text-anchor="start" font-weight="bold" font-style="normal" fill="#000" >g</text>
<text x="456.70" y="718.50" font-size="13" text-anchor="start" font-weight="normal" font-style="normal" fill="#111" ><tspan font-style="italic">A<tspan dx="1.2" font-size="9.3" baseline-shift="-3.8">2&#8201;</tspan>A-Cre<tspan dx="0" font-size="9.3" baseline-shift="5.6">+/&#8211;</tspan>:: Drd2<tspan dx="0" font-size="9.3" baseline-shift="5.6">Wt/Wt</tspan></tspan> mice</text>
<line x1="491.10" y1="736.00" x2="491.10" y2="847.00" stroke="#999" stroke-width="1.0" stroke-dasharray="2 2"/>
<line x1="456.00" y1="821.20" x2="625.00" y2="821.20" stroke="#222" stroke-width="1.3" stroke-dasharray="5.3 5.2"/>
<path d="M457.10 736.00 L457.10 847.00 L624.10 847.00" fill="none" stroke="#4a4a4a" stroke-width="1.2"/>
<line x1="457.10" y1="736.00" x2="460.10" y2="736.00" stroke="#4a4a4a" stroke-width="1.1"/>
<text x="450.80" y="740.60" font-size="13" text-anchor="end" font-weight="normal" font-style="normal" fill="#111" >250</text>
<line x1="457.10" y1="763.70" x2="460.10" y2="763.70" stroke="#4a4a4a" stroke-width="1.1"/>
<text x="450.80" y="768.30" font-size="13" text-anchor="end" font-weight="normal" font-style="normal" fill="#111" >200</text>
<line x1="457.10" y1="791.50" x2="460.10" y2="791.50" stroke="#4a4a4a" stroke-width="1.1"/>
<text x="450.80" y="796.10" font-size="13" text-anchor="end" font-weight="normal" font-style="normal" fill="#111" >150</text>
<line x1="457.10" y1="819.90" x2="460.10" y2="819.90" stroke="#4a4a4a" stroke-width="1.1"/>
<text x="450.80" y="824.50" font-size="13" text-anchor="end" font-weight="normal" font-style="normal" fill="#111" >100</text>
<line x1="457.10" y1="847.00" x2="460.10" y2="847.00" stroke="#4a4a4a" stroke-width="1.1"/>
<text x="450.80" y="851.60" font-size="13" text-anchor="end" font-weight="normal" font-style="normal" fill="#111" >50</text>
<line x1="464.80" y1="847.00" x2="464.80" y2="844.00" stroke="#4a4a4a" stroke-width="1.1"/>
<line x1="491.30" y1="847.00" x2="491.30" y2="844.00" stroke="#4a4a4a" stroke-width="1.1"/>
<line x1="517.80" y1="847.00" x2="517.80" y2="844.00" stroke="#4a4a4a" stroke-width="1.1"/>
<line x1="544.30" y1="847.00" x2="544.30" y2="844.00" stroke="#4a4a4a" stroke-width="1.1"/>
<line x1="570.80" y1="847.00" x2="570.80" y2="844.00" stroke="#4a4a4a" stroke-width="1.1"/>
<line x1="597.30" y1="847.00" x2="597.30" y2="844.00" stroke="#4a4a4a" stroke-width="1.1"/>
<line x1="623.80" y1="847.00" x2="623.80" y2="844.00" stroke="#4a4a4a" stroke-width="1.1"/>
<text x="464.80" y="864.00" font-size="13" text-anchor="middle" font-weight="normal" font-style="normal" fill="#111" >0</text>
<text x="491.30" y="864.00" font-size="13" text-anchor="middle" font-weight="normal" font-style="normal" fill="#111" >10</text>
<text x="544.30" y="864.00" font-size="13" text-anchor="middle" font-weight="normal" font-style="normal" fill="#111" >30</text>
<text x="597.30" y="864.00" font-size="13" text-anchor="middle" font-weight="normal" font-style="normal" fill="#111" >50</text>
<text x="0" y="0" font-size="13" text-anchor="middle" fill="#111" transform="translate(415.60 791.40) rotate(-90)">Normalized EPSC (%)</text>
<text x="540.70" y="884.00" font-size="13" text-anchor="middle" font-weight="normal" font-style="normal" fill="#111" >Time (min)</text>
<path d="M470.50 818.20 V830.20 M469.00 818.20 H472.00 M469.00 830.20 H472.00" stroke="#e0473a" stroke-width="1" fill="none"/>
<path d="M475.50 818.60 V826.60 M474.00 818.60 H477.00 M474.00 826.60 H477.00" stroke="#e0473a" stroke-width="1" fill="none"/>
<path d="M480.50 819.50 V829.50 M479.00 819.50 H482.00 M479.00 829.50 H482.00" stroke="#e0473a" stroke-width="1" fill="none"/>
<path d="M486.50 813.60 V821.60 M485.00 813.60 H488.00 M485.00 821.60 H488.00" stroke="#e0473a" stroke-width="1" fill="none"/>
<path d="M491.50 803.70 V815.70 M490.00 803.70 H493.00 M490.00 815.70 H493.00" stroke="#e0473a" stroke-width="1" fill="none"/>
<path d="M496.50 795.50 V805.50 M495.00 795.50 H498.00 M495.00 805.50 H498.00" stroke="#e0473a" stroke-width="1" fill="none"/>
<path d="M501.50 789.80 V801.80 M500.00 789.80 H503.00 M500.00 801.80 H503.00" stroke="#e0473a" stroke-width="1" fill="none"/>
<path d="M507.50 790.60 V802.60 M506.00 790.60 H509.00 M506.00 802.60 H509.00" stroke="#e0473a" stroke-width="1" fill="none"/>
<path d="M512.50 789.00 V801.00 M511.00 789.00 H514.00 M511.00 801.00 H514.00" stroke="#e0473a" stroke-width="1" fill="none"/>
<path d="M517.50 782.10 V800.10 M516.00 782.10 H519.00 M516.00 800.10 H519.00" stroke="#e0473a" stroke-width="1" fill="none"/>
<path d="M523.50 785.50 V793.50 M522.00 785.50 H525.00 M522.00 793.50 H525.00" stroke="#e0473a" stroke-width="1" fill="none"/>
<path d="M528.50 774.70 V782.70 M527.00 774.70 H530.00 M527.00 782.70 H530.00" stroke="#e0473a" stroke-width="1" fill="none"/>
<path d="M533.50 773.70 V783.70 M532.00 773.70 H535.00 M532.00 783.70 H535.00" stroke="#e0473a" stroke-width="1" fill="none"/>
<path d="M539.50 775.80 V787.80 M538.00 775.80 H541.00 M538.00 787.80 H541.00" stroke="#e0473a" stroke-width="1" fill="none"/>
<path d="M544.50 776.00 V786.00 M543.00 776.00 H546.00 M543.00 786.00 H546.00" stroke="#e0473a" stroke-width="1" fill="none"/>
<path d="M549.50 773.60 V782.60 M548.00 773.60 H551.00 M548.00 782.60 H551.00" stroke="#e0473a" stroke-width="1" fill="none"/>
<path d="M554.50 766.60 V777.80 M553.00 766.60 H556.00 M553.00 777.80 H556.00" stroke="#e0473a" stroke-width="1" fill="none"/>
<path d="M560.50 757.70 V771.50 M559.00 757.70 H562.00 M559.00 771.50 H562.00" stroke="#e0473a" stroke-width="1" fill="none"/>
<path d="M565.50 756.30 V763.30 M564.00 756.30 H567.00 M564.00 763.30 H567.00" stroke="#e0473a" stroke-width="1" fill="none"/>
<path d="M570.50 759.00 V767.00 M569.00 759.00 H572.00 M569.00 767.00 H572.00" stroke="#e0473a" stroke-width="1" fill="none"/>
<path d="M576.50 762.60 V770.60 M575.00 762.60 H578.00 M575.00 770.60 H578.00" stroke="#e0473a" stroke-width="1" fill="none"/>
<path d="M581.50 758.00 V772.00 M580.00 758.00 H583.00 M580.00 772.00 H583.00" stroke="#e0473a" stroke-width="1" fill="none"/>
<path d="M586.50 758.10 V766.10 M585.00 758.10 H588.00 M585.00 766.10 H588.00" stroke="#e0473a" stroke-width="1" fill="none"/>
<path d="M592.50 760.60 V768.60 M591.00 760.60 H594.00 M591.00 768.60 H594.00" stroke="#e0473a" stroke-width="1" fill="none"/>
<path d="M597.50 758.00 V780.00 M596.00 758.00 H599.00 M596.00 780.00 H599.00" stroke="#e0473a" stroke-width="1" fill="none"/>
<path d="M602.50 771.00 V783.00 M601.00 771.00 H604.00 M601.00 783.00 H604.00" stroke="#e0473a" stroke-width="1" fill="none"/>
<path d="M607.50 767.40 V780.20 M606.00 767.40 H609.00 M606.00 780.20 H609.00" stroke="#e0473a" stroke-width="1" fill="none"/>
<path d="M613.50 773.10 V785.10 M612.00 773.10 H615.00 M612.00 785.10 H615.00" stroke="#e0473a" stroke-width="1" fill="none"/>
<path d="M618.50 772.50 V780.50 M617.00 772.50 H620.00 M617.00 780.50 H620.00" stroke="#e0473a" stroke-width="1" fill="none"/>
<path d="M623.50 767.80 V781.40 M622.00 767.80 H625.00 M622.00 781.40 H625.00" stroke="#e0473a" stroke-width="1" fill="none"/>
<circle cx="470.10" cy="824.20" r="3.3" fill="#fff" stroke="#e0473a" stroke-width="1.0"/>
<circle cx="475.40" cy="822.60" r="3.3" fill="#fff" stroke="#e0473a" stroke-width="1.0"/>
<circle cx="480.70" cy="824.50" r="3.3" fill="#fff" stroke="#e0473a" stroke-width="1.0"/>
<circle cx="486.00" cy="817.60" r="3.3" fill="#fff" stroke="#e0473a" stroke-width="1.0"/>
<circle cx="491.30" cy="809.70" r="3.3" fill="#fff" stroke="#e0473a" stroke-width="1.0"/>
<circle cx="496.60" cy="800.50" r="3.3" fill="#fff" stroke="#e0473a" stroke-width="1.0"/>
<circle cx="501.90" cy="795.80" r="3.3" fill="#fff" stroke="#e0473a" stroke-width="1.0"/>
<circle cx="507.20" cy="796.60" r="3.3" fill="#fff" stroke="#e0473a" stroke-width="1.0"/>
<circle cx="512.50" cy="795.00" r="3.3" fill="#fff" stroke="#e0473a" stroke-width="1.0"/>
<circle cx="517.80" cy="791.10" r="3.3" fill="#fff" stroke="#e0473a" stroke-width="1.0"/>
<circle cx="523.10" cy="789.50" r="3.3" fill="#fff" stroke="#e0473a" stroke-width="1.0"/>
<circle cx="528.40" cy="778.70" r="3.3" fill="#fff" stroke="#e0473a" stroke-width="1.0"/>
<circle cx="533.70" cy="778.70" r="3.3" fill="#fff" stroke="#e0473a" stroke-width="1.0"/>
<circle cx="539.00" cy="781.80" r="3.3" fill="#fff" stroke="#e0473a" stroke-width="1.0"/>
<circle cx="544.30" cy="781.00" r="3.3" fill="#fff" stroke="#e0473a" stroke-width="1.0"/>
<circle cx="549.60" cy="778.10" r="3.3" fill="#fff" stroke="#e0473a" stroke-width="1.0"/>
<circle cx="554.90" cy="772.20" r="3.3" fill="#fff" stroke="#e0473a" stroke-width="1.0"/>
<circle cx="560.20" cy="764.60" r="3.3" fill="#fff" stroke="#e0473a" stroke-width="1.0"/>
<circle cx="565.50" cy="759.80" r="3.3" fill="#fff" stroke="#e0473a" stroke-width="1.0"/>
<circle cx="570.80" cy="763.00" r="3.3" fill="#fff" stroke="#e0473a" stroke-width="1.0"/>
<circle cx="576.10" cy="766.60" r="3.3" fill="#fff" stroke="#e0473a" stroke-width="1.0"/>
<circle cx="581.40" cy="765.00" r="3.3" fill="#fff" stroke="#e0473a" stroke-width="1.0"/>
<circle cx="586.70" cy="762.10" r="3.3" fill="#fff" stroke="#e0473a" stroke-width="1.0"/>
<circle cx="592.00" cy="764.60" r="3.3" fill="#fff" stroke="#e0473a" stroke-width="1.0"/>
<circle cx="597.30" cy="769.00" r="3.3" fill="#fff" stroke="#e0473a" stroke-width="1.0"/>
<circle cx="602.60" cy="777.00" r="3.3" fill="#fff" stroke="#e0473a" stroke-width="1.0"/>
<circle cx="607.90" cy="773.80" r="3.3" fill="#fff" stroke="#e0473a" stroke-width="1.0"/>
<circle cx="613.20" cy="779.10" r="3.3" fill="#fff" stroke="#e0473a" stroke-width="1.0"/>
<circle cx="618.50" cy="776.50" r="3.3" fill="#fff" stroke="#e0473a" stroke-width="1.0"/>
<circle cx="623.80" cy="774.60" r="3.3" fill="#fff" stroke="#e0473a" stroke-width="1.0"/>
<line x1="468.90" y1="744.00" x2="484.20" y2="744.00" stroke="#222" stroke-width="1.1"/>
<circle cx="476.30" cy="744.00" r="3.6" fill="#fff" stroke="#e0473a" stroke-width="1.0"/>
<text x="499.20" y="748.10" font-size="11.5" text-anchor="start" font-weight="normal" font-style="normal" fill="#111" >(<tspan font-style="italic">n</tspan> = 7)</text>
<line x1="603.20" y1="761.20" x2="623.00" y2="761.20" stroke="#333" stroke-width="1.3"/>
<polygon points="610.60,749.40 611.29,751.05 613.07,751.20 611.71,752.36 612.13,754.10 610.60,753.17 609.07,754.10 609.49,752.36 608.13,751.20 609.91,751.05" fill="#111" stroke="#111" stroke-width="0.3" stroke-linejoin="round"/>
<polygon points="617.30,749.40 617.99,751.05 619.77,751.20 618.41,752.36 618.83,754.10 617.30,753.17 615.77,754.10 616.19,752.36 614.83,751.20 616.61,751.05" fill="#111" stroke="#111" stroke-width="0.3" stroke-linejoin="round"/>
<path d="M637.00 765.00 C637.17 769.17 637.70 782.50 638.00 790.00 C638.30 797.50 638.38 807.33 638.80 810.00 C639.22 812.67 639.92 807.53 640.50 806.00 C641.08 804.47 641.32 805.03 642.30 800.80 C643.28 796.57 645.05 786.00 646.40 780.60 C647.75 775.20 648.88 771.53 650.40 768.40 C651.92 765.27 653.57 763.20 655.50 761.80 C657.43 760.40 657.08 760.45 662.00 760.00 C666.92 759.55 681.17 759.25 685.00 759.10" fill="none" stroke="#aaa" stroke-width="0.9"/>
<path d="M635.60 757.50 C635.80 759.58 636.35 764.55 636.80 770.00 C637.25 775.45 637.77 787.87 638.30 790.20 C638.83 792.53 639.50 785.95 640.00 784.00 C640.50 782.05 640.58 781.10 641.30 778.50 C642.02 775.90 642.78 771.10 644.30 768.40 C645.82 765.70 648.37 763.65 650.40 762.30 C652.43 760.95 653.23 760.77 656.50 760.30 C659.77 759.83 665.25 759.70 670.00 759.50 C674.75 759.30 682.50 759.17 685.00 759.10" fill="none" stroke="#2a2a2a" stroke-width="1.1"/>
<line x1="628.90" y1="757.70" x2="635.20" y2="757.70" stroke="#333" stroke-width="1"/>
<line x1="635.40" y1="751.70" x2="635.40" y2="758.30" stroke="#333" stroke-width="1"/>
<path d="M666.60 781.60 V806.90 H650.20" fill="none" stroke="#727272" stroke-width="1.3"/>
<text x="0" y="0" font-size="12.5" text-anchor="middle" fill="#111" transform="translate(679.90 788.00) rotate(-90)">100 pA</text>
<text x="658.60" y="821.10" font-size="12.5" text-anchor="middle" font-weight="normal" font-style="normal" fill="#111" >15 ms</text>
</svg></body></html>
